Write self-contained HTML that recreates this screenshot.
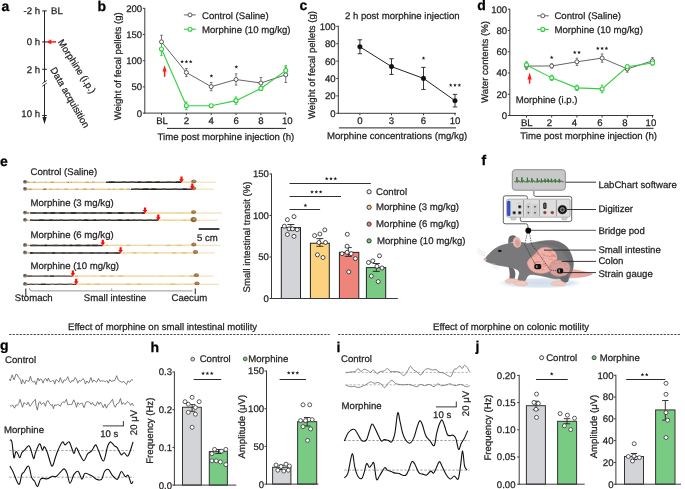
<!DOCTYPE html>
<html><head><meta charset="utf-8"><style>
html,body{margin:0;padding:0;background:#fff;}
body{width:685px;height:489px;overflow:hidden;}
svg{display:block;will-change:transform;text-rendering:geometricPrecision;font-family:"Liberation Sans",sans-serif;font-size:9.6px;fill:#231f20;}
</style></head><body>
<svg width="685" height="489" viewBox="0 0 685 489">
<text x="1.5" y="10.6" font-size="14" font-weight="bold" fill="#000" stroke="#000" stroke-width="0.25">a</text>
<line x1="44.5" y1="10.9" x2="44.5" y2="119" stroke="#222" stroke-width="1"/>
<path d="M44.5 124.2L42.4 117L46.6 117Z" fill="#222" stroke="none" stroke-width="1"/>
<line x1="42.2" y1="10.9" x2="46.8" y2="10.9" stroke="#222" stroke-width="1"/>
<text x="40" y="14.3" text-anchor="end" stroke="#231f20" stroke-width="0.25">-2 h</text>
<line x1="42.2" y1="41.9" x2="46.8" y2="41.9" stroke="#222" stroke-width="1"/>
<text x="40" y="45.3" text-anchor="end" stroke="#231f20" stroke-width="0.25">0 h</text>
<line x1="42.2" y1="69.3" x2="46.8" y2="69.3" stroke="#222" stroke-width="1"/>
<text x="40" y="72.7" text-anchor="end" stroke="#231f20" stroke-width="0.25">2 h</text>
<line x1="42.2" y1="115.5" x2="46.8" y2="115.5" stroke="#222" stroke-width="1"/>
<text x="40" y="117.2" text-anchor="end" stroke="#231f20" stroke-width="0.25">10 h</text>
<text x="51" y="14.2" stroke="#231f20" stroke-width="0.25">BL</text>
<line x1="56" y1="41.9" x2="50" y2="41.9" stroke="#ff1a1a" stroke-width="1.5"/>
<path d="M45.8 41.9L51.3 39.6L51.3 44.2Z" fill="#ff1a1a" stroke="none" stroke-width="1"/>
<line x1="42.3" y1="83.5" x2="46.7" y2="80.5" stroke="#222" stroke-width="0.9"/>
<line x1="42.3" y1="86.2" x2="46.7" y2="83.2" stroke="#222" stroke-width="0.9"/>
<rect x="43.9" y="82.5" width="1.3" height="1.8" fill="#fff" stroke="none" stroke-width="1"/>
<text x="57.4" y="42" stroke="#231f20" stroke-width="0.25" transform="rotate(57.5 57.4 42)">Morphine (i.p.)</text>
<text x="50" y="69.6" stroke="#231f20" stroke-width="0.25" transform="rotate(60 50 69.6)">Data acquisition</text>
<text x="97.5" y="10.5" font-size="14" font-weight="bold" fill="#000" stroke="#000" stroke-width="0.25">b</text>
<line x1="144.8" y1="8" x2="144.8" y2="113.6" stroke="#3a3a3a" stroke-width="1"/>
<line x1="144.3" y1="113.1" x2="286" y2="113.1" stroke="#3a3a3a" stroke-width="1"/>
<line x1="142.8" y1="113.1" x2="144.8" y2="113.1" stroke="#3a3a3a" stroke-width="1"/>
<text x="142.2" y="116.5" text-anchor="end" stroke="#231f20" stroke-width="0.25">0</text>
<line x1="142.8" y1="86.9" x2="144.8" y2="86.9" stroke="#3a3a3a" stroke-width="1"/>
<text x="142.2" y="90.3" text-anchor="end" stroke="#231f20" stroke-width="0.25">50</text>
<line x1="142.8" y1="60.7" x2="144.8" y2="60.7" stroke="#3a3a3a" stroke-width="1"/>
<text x="142.2" y="64.1" text-anchor="end" stroke="#231f20" stroke-width="0.25">100</text>
<line x1="142.8" y1="34.5" x2="144.8" y2="34.5" stroke="#3a3a3a" stroke-width="1"/>
<text x="142.2" y="37.9" text-anchor="end" stroke="#231f20" stroke-width="0.25">150</text>
<line x1="142.8" y1="8.3" x2="144.8" y2="8.3" stroke="#3a3a3a" stroke-width="1"/>
<text x="142.2" y="11.7" text-anchor="end" stroke="#231f20" stroke-width="0.25">200</text>
<line x1="161.5" y1="113.1" x2="161.5" y2="115.1" stroke="#3a3a3a" stroke-width="1"/>
<text x="162" y="123.6" text-anchor="middle" stroke="#231f20" stroke-width="0.25">BL</text>
<line x1="186.35" y1="113.1" x2="186.35" y2="115.1" stroke="#3a3a3a" stroke-width="1"/>
<text x="186.35" y="123.6" text-anchor="middle" stroke="#231f20" stroke-width="0.25">2</text>
<line x1="211.2" y1="113.1" x2="211.2" y2="115.1" stroke="#3a3a3a" stroke-width="1"/>
<text x="211.2" y="123.6" text-anchor="middle" stroke="#231f20" stroke-width="0.25">4</text>
<line x1="236.05" y1="113.1" x2="236.05" y2="115.1" stroke="#3a3a3a" stroke-width="1"/>
<text x="236.05" y="123.6" text-anchor="middle" stroke="#231f20" stroke-width="0.25">6</text>
<line x1="260.9" y1="113.1" x2="260.9" y2="115.1" stroke="#3a3a3a" stroke-width="1"/>
<text x="260.9" y="123.6" text-anchor="middle" stroke="#231f20" stroke-width="0.25">8</text>
<line x1="285.75" y1="113.1" x2="285.75" y2="115.1" stroke="#3a3a3a" stroke-width="1"/>
<text x="287.35" y="123.6" text-anchor="middle" stroke="#231f20" stroke-width="0.25">10</text>
<line x1="167" y1="128.4" x2="286" y2="128.4" stroke="#222" stroke-width="1"/>
<text x="157.6" y="139.8" stroke="#231f20" stroke-width="0.25">Time post morphine injection (h)</text>
<text x="120.6" y="66.3" text-anchor="middle" stroke="#231f20" stroke-width="0.25" transform="rotate(-90 120.6 66.3)">Weight of fecal pellets (g)</text>
<line x1="161.5" y1="35.2336" x2="161.5" y2="48.4384" stroke="#555555" stroke-width="0.8"/>
<line x1="160.2" y1="35.2336" x2="162.8" y2="35.2336" stroke="#555555" stroke-width="0.8"/>
<line x1="160.2" y1="48.4384" x2="162.8" y2="48.4384" stroke="#555555" stroke-width="0.8"/>
<line x1="186.35" y1="68.56" x2="186.35" y2="76.42" stroke="#555555" stroke-width="0.8"/>
<line x1="185.05" y1="68.56" x2="187.65" y2="68.56" stroke="#555555" stroke-width="0.8"/>
<line x1="185.05" y1="76.42" x2="187.65" y2="76.42" stroke="#555555" stroke-width="0.8"/>
<line x1="211.2" y1="82.5508" x2="211.2" y2="90.7252" stroke="#555555" stroke-width="0.8"/>
<line x1="209.9" y1="82.5508" x2="212.5" y2="82.5508" stroke="#555555" stroke-width="0.8"/>
<line x1="209.9" y1="90.7252" x2="212.5" y2="90.7252" stroke="#555555" stroke-width="0.8"/>
<line x1="236.05" y1="73.9048" x2="236.05" y2="85.1184" stroke="#555555" stroke-width="0.8"/>
<line x1="234.75" y1="73.9048" x2="237.35" y2="73.9048" stroke="#555555" stroke-width="0.8"/>
<line x1="234.75" y1="85.1184" x2="237.35" y2="85.1184" stroke="#555555" stroke-width="0.8"/>
<line x1="260.9" y1="77.4156" x2="260.9" y2="88.6292" stroke="#555555" stroke-width="0.8"/>
<line x1="259.6" y1="77.4156" x2="262.2" y2="77.4156" stroke="#555555" stroke-width="0.8"/>
<line x1="259.6" y1="88.6292" x2="262.2" y2="88.6292" stroke="#555555" stroke-width="0.8"/>
<line x1="285.75" y1="67.0928" x2="285.75" y2="82.4984" stroke="#555555" stroke-width="0.8"/>
<line x1="284.45" y1="67.0928" x2="287.05" y2="67.0928" stroke="#555555" stroke-width="0.8"/>
<line x1="284.45" y1="82.4984" x2="287.05" y2="82.4984" stroke="#555555" stroke-width="0.8"/>
<line x1="161.5" y1="42.622" x2="161.5" y2="55.4076" stroke="#2fd03c" stroke-width="0.9"/>
<line x1="160.2" y1="42.622" x2="162.8" y2="42.622" stroke="#2fd03c" stroke-width="0.9"/>
<line x1="160.2" y1="55.4076" x2="162.8" y2="55.4076" stroke="#2fd03c" stroke-width="0.9"/>
<line x1="186.35" y1="101.991" x2="186.35" y2="109.642" stroke="#2fd03c" stroke-width="0.9"/>
<line x1="185.05" y1="101.991" x2="187.65" y2="101.991" stroke="#2fd03c" stroke-width="0.9"/>
<line x1="185.05" y1="109.642" x2="187.65" y2="109.642" stroke="#2fd03c" stroke-width="0.9"/>
<line x1="211.2" y1="104.506" x2="211.2" y2="107.126" stroke="#2fd03c" stroke-width="0.9"/>
<line x1="209.9" y1="104.506" x2="212.5" y2="104.506" stroke="#2fd03c" stroke-width="0.9"/>
<line x1="209.9" y1="107.126" x2="212.5" y2="107.126" stroke="#2fd03c" stroke-width="0.9"/>
<line x1="236.05" y1="96.9608" x2="236.05" y2="104.297" stroke="#2fd03c" stroke-width="0.9"/>
<line x1="234.75" y1="96.9608" x2="237.35" y2="96.9608" stroke="#2fd03c" stroke-width="0.9"/>
<line x1="234.75" y1="104.297" x2="237.35" y2="104.297" stroke="#2fd03c" stroke-width="0.9"/>
<line x1="260.9" y1="86.8476" x2="260.9" y2="89.9916" stroke="#2fd03c" stroke-width="0.9"/>
<line x1="259.6" y1="86.8476" x2="262.2" y2="86.8476" stroke="#2fd03c" stroke-width="0.9"/>
<line x1="259.6" y1="89.9916" x2="262.2" y2="89.9916" stroke="#2fd03c" stroke-width="0.9"/>
<line x1="285.75" y1="65.3636" x2="285.75" y2="75.8436" stroke="#2fd03c" stroke-width="0.9"/>
<line x1="284.45" y1="65.3636" x2="287.05" y2="65.3636" stroke="#2fd03c" stroke-width="0.9"/>
<line x1="284.45" y1="75.8436" x2="287.05" y2="75.8436" stroke="#2fd03c" stroke-width="0.9"/>
<polyline points="161.5,41.84 186.35,72.49 211.2,86.64 236.05,79.51 260.9,83.02 285.75,74.8" fill="none" stroke="#555555" stroke-width="0.9"/>
<polyline points="161.5,49.01 186.35,105.82 211.2,105.82 236.05,100.63 260.9,88.42 285.75,70.6" fill="none" stroke="#2fd03c" stroke-width="1.1"/>
<circle cx="161.5" cy="41.836" r="2" fill="#fff" stroke="#555555" stroke-width="1"/>
<circle cx="186.35" cy="72.49" r="2" fill="#fff" stroke="#555555" stroke-width="1"/>
<circle cx="211.2" cy="86.638" r="2" fill="#fff" stroke="#555555" stroke-width="1"/>
<circle cx="236.05" cy="79.5116" r="2" fill="#fff" stroke="#555555" stroke-width="1"/>
<circle cx="260.9" cy="83.0224" r="2" fill="#fff" stroke="#555555" stroke-width="1"/>
<circle cx="285.75" cy="74.7956" r="2" fill="#fff" stroke="#555555" stroke-width="1"/>
<circle cx="161.5" cy="49.0148" r="2" fill="#fff" stroke="#2fd03c" stroke-width="1.1"/>
<circle cx="186.35" cy="105.816" r="2" fill="#fff" stroke="#2fd03c" stroke-width="1.1"/>
<circle cx="211.2" cy="105.816" r="2" fill="#fff" stroke="#2fd03c" stroke-width="1.1"/>
<circle cx="236.05" cy="100.629" r="2" fill="#fff" stroke="#2fd03c" stroke-width="1.1"/>
<circle cx="260.9" cy="88.4196" r="2" fill="#fff" stroke="#2fd03c" stroke-width="1.1"/>
<circle cx="285.75" cy="70.6036" r="2" fill="#fff" stroke="#2fd03c" stroke-width="1.1"/>
<polygon points="182.10,59.65 182.58,60.94 183.95,61.00 182.88,61.85 183.25,63.18 182.10,62.42 180.95,63.18 181.32,61.85 180.25,61.00 181.62,60.94" fill="#1a1a1a"/>
<polygon points="186.40,59.65 186.88,60.94 188.25,61.00 187.18,61.85 187.55,63.18 186.40,62.42 185.25,63.18 185.62,61.85 184.55,61.00 185.92,60.94" fill="#1a1a1a"/>
<polygon points="190.70,59.65 191.18,60.94 192.55,61.00 191.48,61.85 191.85,63.18 190.70,62.42 189.55,63.18 189.92,61.85 188.85,61.00 190.22,60.94" fill="#1a1a1a"/>
<polygon points="211.40,74.05 211.88,75.34 213.25,75.40 212.18,76.25 212.55,77.58 211.40,76.82 210.25,77.58 210.62,76.25 209.55,75.40 210.92,75.34" fill="#1a1a1a"/>
<polygon points="236.30,64.95 236.78,66.24 238.15,66.30 237.08,67.15 237.45,68.48 236.30,67.72 235.15,68.48 235.52,67.15 234.45,66.30 235.82,66.24" fill="#1a1a1a"/>
<line x1="164.6" y1="76.8" x2="164.6" y2="71" stroke="#ff1a1a" stroke-width="1.5"/>
<path d="M164.6 65.3L162.5 71.5L166.7 71.5Z" fill="#ff1a1a" stroke="none" stroke-width="1"/>
<line x1="183.9" y1="14.9" x2="195.8" y2="14.9" stroke="#555555" stroke-width="0.9"/>
<circle cx="190" cy="14.9" r="2" fill="#fff" stroke="#555555" stroke-width="1"/>
<text x="202" y="18.8" stroke="#231f20" stroke-width="0.25">Control (Saline)</text>
<line x1="183.9" y1="29.2" x2="195.8" y2="29.2" stroke="#2fd03c" stroke-width="1.1"/>
<circle cx="190" cy="29.2" r="2" fill="#fff" stroke="#2fd03c" stroke-width="1.1"/>
<text x="202" y="33.2" stroke="#231f20" stroke-width="0.25">Morphine (10 mg/kg)</text>
<text x="299.5" y="10.1" font-size="14" font-weight="bold" fill="#000" stroke="#000" stroke-width="0.25">c</text>
<text x="344.9" y="18.7" stroke="#231f20" stroke-width="0.25">2 h post morphine injection</text>
<line x1="338.3" y1="25.8" x2="338.3" y2="113.8" stroke="#3a3a3a" stroke-width="1"/>
<line x1="337.8" y1="113.3" x2="456" y2="113.3" stroke="#3a3a3a" stroke-width="1"/>
<line x1="336.3" y1="113.3" x2="338.3" y2="113.3" stroke="#3a3a3a" stroke-width="1"/>
<text x="335.7" y="116.7" text-anchor="end" stroke="#231f20" stroke-width="0.25">0</text>
<line x1="336.3" y1="95.9" x2="338.3" y2="95.9" stroke="#3a3a3a" stroke-width="1"/>
<text x="335.7" y="99.3" text-anchor="end" stroke="#231f20" stroke-width="0.25">20</text>
<line x1="336.3" y1="78.5" x2="338.3" y2="78.5" stroke="#3a3a3a" stroke-width="1"/>
<text x="335.7" y="81.9" text-anchor="end" stroke="#231f20" stroke-width="0.25">40</text>
<line x1="336.3" y1="61.1" x2="338.3" y2="61.1" stroke="#3a3a3a" stroke-width="1"/>
<text x="335.7" y="64.5" text-anchor="end" stroke="#231f20" stroke-width="0.25">60</text>
<line x1="336.3" y1="43.7" x2="338.3" y2="43.7" stroke="#3a3a3a" stroke-width="1"/>
<text x="335.7" y="47.1" text-anchor="end" stroke="#231f20" stroke-width="0.25">80</text>
<line x1="336.3" y1="26.3" x2="338.3" y2="26.3" stroke="#3a3a3a" stroke-width="1"/>
<text x="335.7" y="29.7" text-anchor="end" stroke="#231f20" stroke-width="0.25">100</text>
<line x1="359.9" y1="113.3" x2="359.9" y2="115.3" stroke="#3a3a3a" stroke-width="1"/>
<text x="359.9" y="123.6" text-anchor="middle" stroke="#231f20" stroke-width="0.25">0</text>
<line x1="391.5" y1="113.3" x2="391.5" y2="115.3" stroke="#3a3a3a" stroke-width="1"/>
<text x="391.5" y="123.6" text-anchor="middle" stroke="#231f20" stroke-width="0.25">3</text>
<line x1="423.5" y1="113.3" x2="423.5" y2="115.3" stroke="#3a3a3a" stroke-width="1"/>
<text x="423.5" y="123.6" text-anchor="middle" stroke="#231f20" stroke-width="0.25">6</text>
<line x1="455" y1="113.3" x2="455" y2="115.3" stroke="#3a3a3a" stroke-width="1"/>
<text x="455" y="123.6" text-anchor="middle" stroke="#231f20" stroke-width="0.25">10</text>
<line x1="338.9" y1="127.9" x2="456" y2="127.9" stroke="#222" stroke-width="1"/>
<text x="327" y="139.4" stroke="#231f20" stroke-width="0.25">Morphine concentrations (mg/kg)</text>
<text x="315.3" y="65" text-anchor="middle" stroke="#231f20" stroke-width="0.25" transform="rotate(-90 315.3 65)">Weight of fecal pellets (g)</text>
<line x1="359.9" y1="39.785" x2="359.9" y2="53.705" stroke="#222" stroke-width="0.9"/>
<line x1="357.7" y1="39.785" x2="362.1" y2="39.785" stroke="#222" stroke-width="0.9"/>
<line x1="357.7" y1="53.705" x2="362.1" y2="53.705" stroke="#222" stroke-width="0.9"/>
<line x1="391.5" y1="58.751" x2="391.5" y2="74.411" stroke="#222" stroke-width="0.9"/>
<line x1="389.3" y1="58.751" x2="393.7" y2="58.751" stroke="#222" stroke-width="0.9"/>
<line x1="389.3" y1="74.411" x2="393.7" y2="74.411" stroke="#222" stroke-width="0.9"/>
<line x1="423.5" y1="67.364" x2="423.5" y2="89.462" stroke="#222" stroke-width="0.9"/>
<line x1="421.3" y1="67.364" x2="425.7" y2="67.364" stroke="#222" stroke-width="0.9"/>
<line x1="421.3" y1="89.462" x2="425.7" y2="89.462" stroke="#222" stroke-width="0.9"/>
<line x1="455" y1="94.421" x2="455" y2="106.949" stroke="#222" stroke-width="0.9"/>
<line x1="452.8" y1="94.421" x2="457.2" y2="94.421" stroke="#222" stroke-width="0.9"/>
<line x1="452.8" y1="106.949" x2="457.2" y2="106.949" stroke="#222" stroke-width="0.9"/>
<polyline points="359.9,46.75 391.5,66.58 423.5,78.41 455,100.69" fill="none" stroke="#222" stroke-width="1"/>
<circle cx="359.9" cy="46.745" r="2.3" fill="#111" stroke="#111" stroke-width="0.5"/>
<circle cx="391.5" cy="66.581" r="2.3" fill="#111" stroke="#111" stroke-width="0.5"/>
<circle cx="423.5" cy="78.413" r="2.3" fill="#111" stroke="#111" stroke-width="0.5"/>
<circle cx="455" cy="100.685" r="2.3" fill="#111" stroke="#111" stroke-width="0.5"/>
<polygon points="423.50,56.15 423.98,57.44 425.35,57.50 424.28,58.35 424.65,59.68 423.50,58.92 422.35,59.68 422.72,58.35 421.65,57.50 423.02,57.44" fill="#1a1a1a"/>
<polygon points="450.70,83.15 451.18,84.44 452.55,84.50 451.48,85.35 451.85,86.68 450.70,85.92 449.55,86.68 449.92,85.35 448.85,84.50 450.22,84.44" fill="#1a1a1a"/>
<polygon points="455.00,83.15 455.48,84.44 456.85,84.50 455.78,85.35 456.15,86.68 455.00,85.92 453.85,86.68 454.22,85.35 453.15,84.50 454.52,84.44" fill="#1a1a1a"/>
<polygon points="459.30,83.15 459.78,84.44 461.15,84.50 460.08,85.35 460.45,86.68 459.30,85.92 458.15,86.68 458.52,85.35 457.45,84.50 458.82,84.44" fill="#1a1a1a"/>
<text x="477.3" y="10.2" font-size="14" font-weight="bold" fill="#000" stroke="#000" stroke-width="0.25">d</text>
<line x1="509.8" y1="8.7" x2="509.8" y2="116" stroke="#3a3a3a" stroke-width="1"/>
<line x1="509.3" y1="115.5" x2="653.5" y2="115.5" stroke="#3a3a3a" stroke-width="1"/>
<line x1="507.8" y1="115.5" x2="509.8" y2="115.5" stroke="#3a3a3a" stroke-width="1"/>
<text x="507.2" y="118.9" text-anchor="end" stroke="#231f20" stroke-width="0.25">0</text>
<line x1="507.8" y1="94.24" x2="509.8" y2="94.24" stroke="#3a3a3a" stroke-width="1"/>
<text x="507.2" y="97.64" text-anchor="end" stroke="#231f20" stroke-width="0.25">20</text>
<line x1="507.8" y1="72.98" x2="509.8" y2="72.98" stroke="#3a3a3a" stroke-width="1"/>
<text x="507.2" y="76.38" text-anchor="end" stroke="#231f20" stroke-width="0.25">40</text>
<line x1="507.8" y1="51.72" x2="509.8" y2="51.72" stroke="#3a3a3a" stroke-width="1"/>
<text x="507.2" y="55.12" text-anchor="end" stroke="#231f20" stroke-width="0.25">60</text>
<line x1="507.8" y1="30.46" x2="509.8" y2="30.46" stroke="#3a3a3a" stroke-width="1"/>
<text x="507.2" y="33.86" text-anchor="end" stroke="#231f20" stroke-width="0.25">80</text>
<line x1="507.8" y1="9.2" x2="509.8" y2="9.2" stroke="#3a3a3a" stroke-width="1"/>
<text x="507.2" y="12.6" text-anchor="end" stroke="#231f20" stroke-width="0.25">100</text>
<line x1="526.5" y1="115.5" x2="526.5" y2="117.5" stroke="#3a3a3a" stroke-width="1"/>
<text x="526.8" y="125.8" text-anchor="middle" stroke="#231f20" stroke-width="0.25">BL</text>
<line x1="551.7" y1="115.5" x2="551.7" y2="117.5" stroke="#3a3a3a" stroke-width="1"/>
<text x="549.4" y="125.8" text-anchor="middle" stroke="#231f20" stroke-width="0.25">2</text>
<line x1="576.9" y1="115.5" x2="576.9" y2="117.5" stroke="#3a3a3a" stroke-width="1"/>
<text x="574.3" y="125.8" text-anchor="middle" stroke="#231f20" stroke-width="0.25">4</text>
<line x1="602.1" y1="115.5" x2="602.1" y2="117.5" stroke="#3a3a3a" stroke-width="1"/>
<text x="599.8" y="125.8" text-anchor="middle" stroke="#231f20" stroke-width="0.25">6</text>
<line x1="627.3" y1="115.5" x2="627.3" y2="117.5" stroke="#3a3a3a" stroke-width="1"/>
<text x="624.8" y="125.8" text-anchor="middle" stroke="#231f20" stroke-width="0.25">8</text>
<line x1="652.5" y1="115.5" x2="652.5" y2="117.5" stroke="#3a3a3a" stroke-width="1"/>
<text x="650.9" y="125.8" text-anchor="middle" stroke="#231f20" stroke-width="0.25">10</text>
<line x1="520.3" y1="128.3" x2="653.5" y2="128.3" stroke="#222" stroke-width="1"/>
<text x="520.3" y="138.9" stroke="#231f20" stroke-width="0.25">Time post morphine injection (h)</text>
<text x="487.5" y="62" text-anchor="middle" stroke="#231f20" stroke-width="0.25" transform="rotate(-90 487.5 62)">Water contents (%)</text>
<line x1="526.5" y1="62.8815" x2="526.5" y2="69.2595" stroke="#555555" stroke-width="0.8"/>
<line x1="525.2" y1="62.8815" x2="527.8" y2="62.8815" stroke="#555555" stroke-width="0.8"/>
<line x1="525.2" y1="69.2595" x2="527.8" y2="69.2595" stroke="#555555" stroke-width="0.8"/>
<line x1="551.7" y1="63.8382" x2="551.7" y2="68.0902" stroke="#555555" stroke-width="0.8"/>
<line x1="550.4" y1="63.8382" x2="553" y2="63.8382" stroke="#555555" stroke-width="0.8"/>
<line x1="550.4" y1="68.0902" x2="553" y2="68.0902" stroke="#555555" stroke-width="0.8"/>
<line x1="576.9" y1="58.2043" x2="576.9" y2="65.4327" stroke="#555555" stroke-width="0.8"/>
<line x1="575.6" y1="58.2043" x2="578.2" y2="58.2043" stroke="#555555" stroke-width="0.8"/>
<line x1="575.6" y1="65.4327" x2="578.2" y2="65.4327" stroke="#555555" stroke-width="0.8"/>
<line x1="602.1" y1="53.9523" x2="602.1" y2="62.2437" stroke="#555555" stroke-width="0.8"/>
<line x1="600.8" y1="53.9523" x2="603.4" y2="53.9523" stroke="#555555" stroke-width="0.8"/>
<line x1="600.8" y1="62.2437" x2="603.4" y2="62.2437" stroke="#555555" stroke-width="0.8"/>
<line x1="627.3" y1="65.7516" x2="627.3" y2="72.1296" stroke="#555555" stroke-width="0.8"/>
<line x1="626" y1="65.7516" x2="628.6" y2="65.7516" stroke="#555555" stroke-width="0.8"/>
<line x1="626" y1="72.1296" x2="628.6" y2="72.1296" stroke="#555555" stroke-width="0.8"/>
<line x1="652.5" y1="57.6728" x2="652.5" y2="64.0508" stroke="#555555" stroke-width="0.8"/>
<line x1="651.2" y1="57.6728" x2="653.8" y2="57.6728" stroke="#555555" stroke-width="0.8"/>
<line x1="651.2" y1="64.0508" x2="653.8" y2="64.0508" stroke="#555555" stroke-width="0.8"/>
<line x1="526.5" y1="61.7122" x2="526.5" y2="68.0902" stroke="#2fd03c" stroke-width="0.9"/>
<line x1="525.2" y1="61.7122" x2="527.8" y2="61.7122" stroke="#2fd03c" stroke-width="0.9"/>
<line x1="525.2" y1="68.0902" x2="527.8" y2="68.0902" stroke="#2fd03c" stroke-width="0.9"/>
<line x1="551.7" y1="75.2123" x2="551.7" y2="80.5273" stroke="#2fd03c" stroke-width="0.9"/>
<line x1="550.4" y1="75.2123" x2="553" y2="75.2123" stroke="#2fd03c" stroke-width="0.9"/>
<line x1="550.4" y1="80.5273" x2="553" y2="80.5273" stroke="#2fd03c" stroke-width="0.9"/>
<line x1="576.9" y1="85.2045" x2="576.9" y2="90.5195" stroke="#2fd03c" stroke-width="0.9"/>
<line x1="575.6" y1="85.2045" x2="578.2" y2="85.2045" stroke="#2fd03c" stroke-width="0.9"/>
<line x1="575.6" y1="90.5195" x2="578.2" y2="90.5195" stroke="#2fd03c" stroke-width="0.9"/>
<line x1="602.1" y1="85.2045" x2="602.1" y2="92.6455" stroke="#2fd03c" stroke-width="0.9"/>
<line x1="600.8" y1="85.2045" x2="603.4" y2="85.2045" stroke="#2fd03c" stroke-width="0.9"/>
<line x1="600.8" y1="92.6455" x2="603.4" y2="92.6455" stroke="#2fd03c" stroke-width="0.9"/>
<line x1="627.3" y1="64.6886" x2="627.3" y2="68.9406" stroke="#2fd03c" stroke-width="0.9"/>
<line x1="626" y1="64.6886" x2="628.6" y2="64.6886" stroke="#2fd03c" stroke-width="0.9"/>
<line x1="626" y1="68.9406" x2="628.6" y2="68.9406" stroke="#2fd03c" stroke-width="0.9"/>
<line x1="652.5" y1="60.8618" x2="652.5" y2="65.1138" stroke="#2fd03c" stroke-width="0.9"/>
<line x1="651.2" y1="60.8618" x2="653.8" y2="60.8618" stroke="#2fd03c" stroke-width="0.9"/>
<line x1="651.2" y1="65.1138" x2="653.8" y2="65.1138" stroke="#2fd03c" stroke-width="0.9"/>
<polyline points="526.5,66.07 551.7,65.96 576.9,61.82 602.1,58.1 627.3,68.94 652.5,60.86" fill="none" stroke="#555555" stroke-width="0.9"/>
<polyline points="526.5,64.9 551.7,77.87 576.9,87.86 602.1,88.92 627.3,66.81 652.5,62.99" fill="none" stroke="#2fd03c" stroke-width="1.1"/>
<circle cx="526.5" cy="66.0705" r="2" fill="#fff" stroke="#555555" stroke-width="1"/>
<circle cx="551.7" cy="65.9642" r="2" fill="#fff" stroke="#555555" stroke-width="1"/>
<circle cx="576.9" cy="61.8185" r="2" fill="#fff" stroke="#555555" stroke-width="1"/>
<circle cx="602.1" cy="58.098" r="2" fill="#fff" stroke="#555555" stroke-width="1"/>
<circle cx="627.3" cy="68.9406" r="2" fill="#fff" stroke="#555555" stroke-width="1"/>
<circle cx="652.5" cy="60.8618" r="2" fill="#fff" stroke="#555555" stroke-width="1"/>
<circle cx="526.5" cy="64.9012" r="2" fill="#fff" stroke="#2fd03c" stroke-width="1.1"/>
<circle cx="551.7" cy="77.8698" r="2" fill="#fff" stroke="#2fd03c" stroke-width="1.1"/>
<circle cx="576.9" cy="87.862" r="2" fill="#fff" stroke="#2fd03c" stroke-width="1.1"/>
<circle cx="602.1" cy="88.925" r="2" fill="#fff" stroke="#2fd03c" stroke-width="1.1"/>
<circle cx="627.3" cy="66.8146" r="2" fill="#fff" stroke="#2fd03c" stroke-width="1.1"/>
<circle cx="652.5" cy="62.9878" r="2" fill="#fff" stroke="#2fd03c" stroke-width="1.1"/>
<polygon points="551.70,55.55 552.18,56.84 553.55,56.90 552.48,57.75 552.85,59.08 551.70,58.32 550.55,59.08 550.92,57.75 549.85,56.90 551.22,56.84" fill="#1a1a1a"/>
<polygon points="574.75,50.45 575.23,51.74 576.60,51.80 575.53,52.65 575.90,53.98 574.75,53.22 573.60,53.98 573.97,52.65 572.90,51.80 574.27,51.74" fill="#1a1a1a"/>
<polygon points="579.05,50.45 579.53,51.74 580.90,51.80 579.83,52.65 580.20,53.98 579.05,53.22 577.90,53.98 578.27,52.65 577.20,51.80 578.57,51.74" fill="#1a1a1a"/>
<polygon points="597.80,46.45 598.28,47.74 599.65,47.80 598.58,48.65 598.95,49.98 597.80,49.22 596.65,49.98 597.02,48.65 595.95,47.80 597.32,47.74" fill="#1a1a1a"/>
<polygon points="602.10,46.45 602.58,47.74 603.95,47.80 602.88,48.65 603.25,49.98 602.10,49.22 600.95,49.98 601.32,48.65 600.25,47.80 601.62,47.74" fill="#1a1a1a"/>
<polygon points="606.40,46.45 606.88,47.74 608.25,47.80 607.18,48.65 607.55,49.98 606.40,49.22 605.25,49.98 605.62,48.65 604.55,47.80 605.92,47.74" fill="#1a1a1a"/>
<line x1="529.6" y1="83.6" x2="529.6" y2="79.1" stroke="#ff1a1a" stroke-width="1.5"/>
<path d="M529.6 72.6L527.5 79.6L531.7 79.6Z" fill="#ff1a1a" stroke="none" stroke-width="1"/>
<text x="515.7" y="102.9" stroke="#231f20" stroke-width="0.25">Morphine (i.p.)</text>
<line x1="537" y1="15.8" x2="548.8" y2="15.8" stroke="#555555" stroke-width="0.9"/>
<circle cx="542.8" cy="15.8" r="2" fill="#fff" stroke="#555555" stroke-width="1"/>
<text x="554.4" y="19.3" stroke="#231f20" stroke-width="0.25">Control (Saline)</text>
<line x1="537" y1="29.4" x2="548.8" y2="29.4" stroke="#2fd03c" stroke-width="1.1"/>
<circle cx="542.8" cy="29.4" r="2" fill="#fff" stroke="#2fd03c" stroke-width="1.1"/>
<text x="554.4" y="32.9" stroke="#231f20" stroke-width="0.25">Morphine (10 mg/kg)</text>
<text x="0" y="165.6" font-size="14" font-weight="bold" fill="#000" stroke="#000" stroke-width="0.25">e</text>
<text x="30.5" y="174.5" stroke="#231f20" stroke-width="0.25">Control (Saline)</text>
<line x1="25.5" y1="182.2" x2="106" y2="182.2" stroke="#dfbd70" stroke-width="1.15"/>
<line x1="25.9031" y1="182.2" x2="29.4454" y2="182.2" stroke="#c9a04e" stroke-width="1.15"/>
<line x1="32.9758" y1="182.2" x2="35.4621" y2="182.2" stroke="#b3a896" stroke-width="1.15"/>
<line x1="40.2956" y1="182.2" x2="42.4344" y2="182.2" stroke="#ecd49a" stroke-width="1.15"/>
<line x1="44.9976" y1="182.2" x2="46.0826" y2="182.2" stroke="#b3a896" stroke-width="1.15"/>
<line x1="50.6792" y1="182.2" x2="53.9661" y2="182.2" stroke="#c9a04e" stroke-width="1.15"/>
<line x1="60.1411" y1="182.2" x2="61.9401" y2="182.2" stroke="#ecd49a" stroke-width="1.15"/>
<line x1="67.487" y1="182.2" x2="68.7937" y2="182.2" stroke="#6b5e4e" stroke-width="1.15"/>
<line x1="70.9772" y1="182.2" x2="72.0535" y2="182.2" stroke="#d4ab58" stroke-width="1.15"/>
<line x1="74.1088" y1="182.2" x2="77.7525" y2="182.2" stroke="#ecd49a" stroke-width="1.15"/>
<line x1="85.5667" y1="182.2" x2="88.7443" y2="182.2" stroke="#d4ab58" stroke-width="1.15"/>
<line x1="92.0744" y1="182.2" x2="94.3881" y2="182.2" stroke="#b3a896" stroke-width="1.15"/>
<line x1="99.7052" y1="182.2" x2="101.742" y2="182.2" stroke="#ecd49a" stroke-width="1.15"/>
<line x1="106" y1="182.2" x2="181.5" y2="182.2" stroke="#37342f" stroke-width="1.45"/>
<line x1="108.857" y1="182.2" x2="114.563" y2="182.2" stroke="#222" stroke-width="1.45"/>
<line x1="121.588" y1="182.2" x2="125.814" y2="182.2" stroke="#4a4540" stroke-width="1.45"/>
<line x1="128.929" y1="182.2" x2="134.9" y2="182.2" stroke="#55504a" stroke-width="1.45"/>
<line x1="137.625" y1="182.2" x2="140.956" y2="182.2" stroke="#222" stroke-width="1.45"/>
<line x1="146.002" y1="182.2" x2="151.643" y2="182.2" stroke="#2e2b28" stroke-width="1.45"/>
<line x1="155.463" y1="182.2" x2="159.813" y2="182.2" stroke="#222" stroke-width="1.45"/>
<line x1="166.891" y1="182.2" x2="170.912" y2="182.2" stroke="#4a4540" stroke-width="1.45"/>
<line x1="175.793" y1="182.2" x2="180.768" y2="182.2" stroke="#222" stroke-width="1.45"/>
<line x1="181.5" y1="182.2" x2="192.8" y2="182.2" stroke="#ecd694" stroke-width="1.4"/>
<line x1="182.019" y1="182.2" x2="186.214" y2="182.2" stroke="#efdaa0" stroke-width="1.4"/>
<line x1="193.8" y1="182.2" x2="216" y2="182.2" stroke="#efdfb2" stroke-width="1.1"/>
<ellipse cx="25.1" cy="181.8" rx="2.1" ry="1.9" fill="#8c8172"/>
<ellipse cx="24.6" cy="181.4" rx="1.0" ry="0.9" fill="#4a4a58"/>
<ellipse cx="193.8" cy="181.3" rx="2.6" ry="1.9" fill="#9a7442"/>
<ellipse cx="194.3" cy="180.9" rx="1.2" ry="0.8" fill="#b8955e"/>
<path d="M180.4 176.6L182.6 176.6L182.6 179.3L183.9 179.3L181.5 182.4L179.1 179.3L180.4 179.3Z" fill="#ff0a0a" stroke="none" stroke-width="1"/>
<line x1="25.5" y1="189.2" x2="131" y2="189.2" stroke="#dfbd70" stroke-width="1.15"/>
<line x1="28.3681" y1="189.2" x2="32.2116" y2="189.2" stroke="#c9a04e" stroke-width="1.15"/>
<line x1="34.7611" y1="189.2" x2="36.8443" y2="189.2" stroke="#ecd49a" stroke-width="1.15"/>
<line x1="43.2601" y1="189.2" x2="46.2693" y2="189.2" stroke="#6b5e4e" stroke-width="1.15"/>
<line x1="49.7788" y1="189.2" x2="51.4154" y2="189.2" stroke="#c9a04e" stroke-width="1.15"/>
<line x1="56.9027" y1="189.2" x2="58.3778" y2="189.2" stroke="#b3a896" stroke-width="1.15"/>
<line x1="64.2086" y1="189.2" x2="67.6196" y2="189.2" stroke="#d4ab58" stroke-width="1.15"/>
<line x1="75.316" y1="189.2" x2="77.9485" y2="189.2" stroke="#b3a896" stroke-width="1.15"/>
<line x1="82.961" y1="189.2" x2="86.6646" y2="189.2" stroke="#c9a04e" stroke-width="1.15"/>
<line x1="90.8487" y1="189.2" x2="94.6442" y2="189.2" stroke="#b3a896" stroke-width="1.15"/>
<line x1="99.1859" y1="189.2" x2="102.838" y2="189.2" stroke="#ecd49a" stroke-width="1.15"/>
<line x1="108.201" y1="189.2" x2="109.909" y2="189.2" stroke="#c9a04e" stroke-width="1.15"/>
<line x1="112.97" y1="189.2" x2="114.491" y2="189.2" stroke="#d4ab58" stroke-width="1.15"/>
<line x1="119.552" y1="189.2" x2="123.548" y2="189.2" stroke="#d4ab58" stroke-width="1.15"/>
<line x1="126.639" y1="189.2" x2="130.32" y2="189.2" stroke="#b3a896" stroke-width="1.15"/>
<line x1="131" y1="189.2" x2="192.3" y2="189.2" stroke="#37342f" stroke-width="1.45"/>
<line x1="133.72" y1="189.2" x2="138.771" y2="189.2" stroke="#55504a" stroke-width="1.45"/>
<line x1="142.943" y1="189.2" x2="148.379" y2="189.2" stroke="#222" stroke-width="1.45"/>
<line x1="151.346" y1="189.2" x2="156.362" y2="189.2" stroke="#222" stroke-width="1.45"/>
<line x1="162.291" y1="189.2" x2="165.291" y2="189.2" stroke="#55504a" stroke-width="1.45"/>
<line x1="172.84" y1="189.2" x2="176.843" y2="189.2" stroke="#55504a" stroke-width="1.45"/>
<line x1="182.813" y1="189.2" x2="186.632" y2="189.2" stroke="#222" stroke-width="1.45"/>
<line x1="190.737" y1="189.2" x2="192.3" y2="189.2" stroke="#222" stroke-width="1.45"/>
<line x1="192.3" y1="189.2" x2="192.5" y2="189.2" stroke="#ecd694" stroke-width="1.4"/>
<line x1="193.5" y1="189.2" x2="213.5" y2="189.2" stroke="#efdfb2" stroke-width="1.1"/>
<ellipse cx="25.1" cy="188.8" rx="2.1" ry="1.9" fill="#8c8172"/>
<ellipse cx="24.6" cy="188.4" rx="1.0" ry="0.9" fill="#4a4a58"/>
<ellipse cx="193.5" cy="188.3" rx="2.6" ry="1.9" fill="#9a7442"/>
<ellipse cx="194" cy="187.9" rx="1.2" ry="0.8" fill="#b8955e"/>
<path d="M191.2 183.6L193.4 183.6L193.4 186.3L194.7 186.3L192.3 189.4L189.9 186.3L191.2 186.3Z" fill="#ff0a0a" stroke="none" stroke-width="1"/>
<text x="30.5" y="206.4" stroke="#231f20" stroke-width="0.25">Morphine (3 mg/kg)</text>
<line x1="25.5" y1="213" x2="30" y2="213" stroke="#dfbd70" stroke-width="1.15"/>
<line x1="26.2139" y1="213" x2="28.8466" y2="213" stroke="#6b5e4e" stroke-width="1.15"/>
<line x1="30" y1="213" x2="145" y2="213" stroke="#37342f" stroke-width="1.45"/>
<line x1="31.4222" y1="213" x2="35.7456" y2="213" stroke="#4a4540" stroke-width="1.45"/>
<line x1="43.1985" y1="213" x2="47.0754" y2="213" stroke="#2e2b28" stroke-width="1.45"/>
<line x1="50.2259" y1="213" x2="55.0945" y2="213" stroke="#222" stroke-width="1.45"/>
<line x1="59.4773" y1="213" x2="64.9214" y2="213" stroke="#2e2b28" stroke-width="1.45"/>
<line x1="70.7305" y1="213" x2="76.2027" y2="213" stroke="#222" stroke-width="1.45"/>
<line x1="82.6502" y1="213" x2="87.3359" y2="213" stroke="#4a4540" stroke-width="1.45"/>
<line x1="90.2923" y1="213" x2="96.1223" y2="213" stroke="#4a4540" stroke-width="1.45"/>
<line x1="99.9299" y1="213" x2="102.054" y2="213" stroke="#55504a" stroke-width="1.45"/>
<line x1="106.89" y1="213" x2="111.766" y2="213" stroke="#222" stroke-width="1.45"/>
<line x1="118.05" y1="213" x2="123.735" y2="213" stroke="#222" stroke-width="1.45"/>
<line x1="130.104" y1="213" x2="134.411" y2="213" stroke="#2e2b28" stroke-width="1.45"/>
<line x1="141.684" y1="213" x2="144.074" y2="213" stroke="#2e2b28" stroke-width="1.45"/>
<line x1="145" y1="213" x2="192.6" y2="213" stroke="#ecd694" stroke-width="1.4"/>
<line x1="145.774" y1="213" x2="150.462" y2="213" stroke="#efdaa0" stroke-width="1.4"/>
<line x1="157.738" y1="213" x2="161.423" y2="213" stroke="#f2e2b4" stroke-width="1.4"/>
<line x1="167.293" y1="213" x2="171.429" y2="213" stroke="#f2e2b4" stroke-width="1.4"/>
<line x1="177.351" y1="213" x2="182.967" y2="213" stroke="#efdaa0" stroke-width="1.4"/>
<line x1="190.546" y1="213" x2="192.6" y2="213" stroke="#f2e2b4" stroke-width="1.4"/>
<line x1="193.6" y1="213" x2="222" y2="213" stroke="#efdfb2" stroke-width="1.1"/>
<ellipse cx="25.1" cy="212.6" rx="2.1" ry="1.9" fill="#8c8172"/>
<ellipse cx="24.6" cy="212.2" rx="1.0" ry="0.9" fill="#4a4a58"/>
<ellipse cx="193.6" cy="212.1" rx="2.6" ry="1.9" fill="#9a7442"/>
<ellipse cx="194.1" cy="211.7" rx="1.2" ry="0.8" fill="#b8955e"/>
<path d="M143.9 207.4L146.1 207.4L146.1 210.1L147.4 210.1L145 213.2L142.6 210.1L143.9 210.1Z" fill="#ff0a0a" stroke="none" stroke-width="1"/>
<line x1="25.5" y1="220.2" x2="30" y2="220.2" stroke="#dfbd70" stroke-width="1.15"/>
<line x1="26.2081" y1="220.2" x2="27.5176" y2="220.2" stroke="#b3a896" stroke-width="1.15"/>
<line x1="30" y1="220.2" x2="158.3" y2="220.2" stroke="#37342f" stroke-width="1.45"/>
<line x1="30.2703" y1="220.2" x2="32.3496" y2="220.2" stroke="#55504a" stroke-width="1.45"/>
<line x1="39.1523" y1="220.2" x2="44.2129" y2="220.2" stroke="#2e2b28" stroke-width="1.45"/>
<line x1="49.335" y1="220.2" x2="52.7759" y2="220.2" stroke="#2e2b28" stroke-width="1.45"/>
<line x1="59.7372" y1="220.2" x2="62.7841" y2="220.2" stroke="#4a4540" stroke-width="1.45"/>
<line x1="69.7576" y1="220.2" x2="74.9842" y2="220.2" stroke="#55504a" stroke-width="1.45"/>
<line x1="78.1448" y1="220.2" x2="81.3842" y2="220.2" stroke="#55504a" stroke-width="1.45"/>
<line x1="83.9045" y1="220.2" x2="88.3279" y2="220.2" stroke="#222" stroke-width="1.45"/>
<line x1="93.3636" y1="220.2" x2="96.0748" y2="220.2" stroke="#222" stroke-width="1.45"/>
<line x1="99.7548" y1="220.2" x2="105.533" y2="220.2" stroke="#55504a" stroke-width="1.45"/>
<line x1="107.576" y1="220.2" x2="110.744" y2="220.2" stroke="#55504a" stroke-width="1.45"/>
<line x1="117.832" y1="220.2" x2="121.866" y2="220.2" stroke="#222" stroke-width="1.45"/>
<line x1="126.408" y1="220.2" x2="129.561" y2="220.2" stroke="#222" stroke-width="1.45"/>
<line x1="132.529" y1="220.2" x2="135.749" y2="220.2" stroke="#4a4540" stroke-width="1.45"/>
<line x1="138.236" y1="220.2" x2="142.087" y2="220.2" stroke="#55504a" stroke-width="1.45"/>
<line x1="147.2" y1="220.2" x2="151.792" y2="220.2" stroke="#55504a" stroke-width="1.45"/>
<line x1="154.662" y1="220.2" x2="158.3" y2="220.2" stroke="#4a4540" stroke-width="1.45"/>
<line x1="158.3" y1="220.2" x2="192.6" y2="220.2" stroke="#ecd694" stroke-width="1.4"/>
<line x1="158.908" y1="220.2" x2="163.439" y2="220.2" stroke="#f2e2b4" stroke-width="1.4"/>
<line x1="167.357" y1="220.2" x2="171.101" y2="220.2" stroke="#efdaa0" stroke-width="1.4"/>
<line x1="175.704" y1="220.2" x2="179.938" y2="220.2" stroke="#f2e2b4" stroke-width="1.4"/>
<line x1="183.443" y1="220.2" x2="185.69" y2="220.2" stroke="#e2c57c" stroke-width="1.4"/>
<line x1="190.077" y1="220.2" x2="192.6" y2="220.2" stroke="#e2c57c" stroke-width="1.4"/>
<line x1="193.6" y1="220.2" x2="217.6" y2="220.2" stroke="#efdfb2" stroke-width="1.1"/>
<ellipse cx="25.1" cy="219.8" rx="2.1" ry="1.9" fill="#8c8172"/>
<ellipse cx="24.6" cy="219.4" rx="1.0" ry="0.9" fill="#4a4a58"/>
<ellipse cx="193.6" cy="219.6" rx="3" ry="2.6" fill="#8f6a3a"/>
<ellipse cx="194.2" cy="219.2" rx="1.4" ry="1.1" fill="#c09a60"/>
<path d="M157.2 214.6L159.4 214.6L159.4 217.3L160.7 217.3L158.3 220.4L155.9 217.3L157.2 217.3Z" fill="#ff0a0a" stroke="none" stroke-width="1"/>
<text x="30.5" y="237.5" stroke="#231f20" stroke-width="0.25">Morphine (6 mg/kg)</text>
<line x1="25.5" y1="245.4" x2="30" y2="245.4" stroke="#dfbd70" stroke-width="1.15"/>
<line x1="27.3687" y1="245.4" x2="30" y2="245.4" stroke="#d4ab58" stroke-width="1.15"/>
<line x1="30" y1="245.4" x2="102.8" y2="245.4" stroke="#37342f" stroke-width="1.45"/>
<line x1="31.3969" y1="245.4" x2="37.1703" y2="245.4" stroke="#4a4540" stroke-width="1.45"/>
<line x1="44.5757" y1="245.4" x2="47.0285" y2="245.4" stroke="#222" stroke-width="1.45"/>
<line x1="54.2392" y1="245.4" x2="57.7622" y2="245.4" stroke="#4a4540" stroke-width="1.45"/>
<line x1="63.2059" y1="245.4" x2="65.2583" y2="245.4" stroke="#2e2b28" stroke-width="1.45"/>
<line x1="69.7072" y1="245.4" x2="72.4355" y2="245.4" stroke="#222" stroke-width="1.45"/>
<line x1="75.3932" y1="245.4" x2="80.5818" y2="245.4" stroke="#2e2b28" stroke-width="1.45"/>
<line x1="86.2893" y1="245.4" x2="90.0687" y2="245.4" stroke="#2e2b28" stroke-width="1.45"/>
<line x1="92.0793" y1="245.4" x2="97.5649" y2="245.4" stroke="#2e2b28" stroke-width="1.45"/>
<line x1="102.8" y1="245.4" x2="192.8" y2="245.4" stroke="#ecd694" stroke-width="1.4"/>
<line x1="105.68" y1="245.4" x2="108.344" y2="245.4" stroke="#e2c57c" stroke-width="1.4"/>
<line x1="112.79" y1="245.4" x2="118.636" y2="245.4" stroke="#efdaa0" stroke-width="1.4"/>
<line x1="126.017" y1="245.4" x2="130.52" y2="245.4" stroke="#e2c57c" stroke-width="1.4"/>
<line x1="138.225" y1="245.4" x2="142.987" y2="245.4" stroke="#f2e2b4" stroke-width="1.4"/>
<line x1="147.481" y1="245.4" x2="150.926" y2="245.4" stroke="#e2c57c" stroke-width="1.4"/>
<line x1="158.605" y1="245.4" x2="161.66" y2="245.4" stroke="#f2e2b4" stroke-width="1.4"/>
<line x1="166.167" y1="245.4" x2="170.579" y2="245.4" stroke="#e2c57c" stroke-width="1.4"/>
<line x1="176.559" y1="245.4" x2="181.39" y2="245.4" stroke="#e2c57c" stroke-width="1.4"/>
<line x1="185.94" y1="245.4" x2="191.214" y2="245.4" stroke="#f2e2b4" stroke-width="1.4"/>
<line x1="193.8" y1="245.4" x2="220" y2="245.4" stroke="#efdfb2" stroke-width="1.1"/>
<ellipse cx="25.1" cy="245" rx="2.1" ry="1.9" fill="#8c8172"/>
<ellipse cx="24.6" cy="244.6" rx="1.0" ry="0.9" fill="#4a4a58"/>
<ellipse cx="193.8" cy="244.5" rx="2.6" ry="1.9" fill="#9a7442"/>
<ellipse cx="194.3" cy="244.1" rx="1.2" ry="0.8" fill="#b8955e"/>
<path d="M101.7 239.8L103.9 239.8L103.9 242.5L105.2 242.5L102.8 245.6L100.4 242.5L101.7 242.5Z" fill="#ff0a0a" stroke="none" stroke-width="1"/>
<line x1="25.5" y1="252.9" x2="30" y2="252.9" stroke="#dfbd70" stroke-width="1.15"/>
<line x1="27.88" y1="252.9" x2="30" y2="252.9" stroke="#b3a896" stroke-width="1.15"/>
<line x1="30" y1="252.9" x2="120.6" y2="252.9" stroke="#37342f" stroke-width="1.45"/>
<line x1="30.1105" y1="252.9" x2="32.6928" y2="252.9" stroke="#222" stroke-width="1.45"/>
<line x1="40.4859" y1="252.9" x2="45.4252" y2="252.9" stroke="#55504a" stroke-width="1.45"/>
<line x1="52.0461" y1="252.9" x2="55.1369" y2="252.9" stroke="#2e2b28" stroke-width="1.45"/>
<line x1="61.5158" y1="252.9" x2="65.1718" y2="252.9" stroke="#4a4540" stroke-width="1.45"/>
<line x1="68.3297" y1="252.9" x2="72.5442" y2="252.9" stroke="#55504a" stroke-width="1.45"/>
<line x1="78.5216" y1="252.9" x2="82.9618" y2="252.9" stroke="#4a4540" stroke-width="1.45"/>
<line x1="90.0275" y1="252.9" x2="93.3698" y2="252.9" stroke="#4a4540" stroke-width="1.45"/>
<line x1="97.5427" y1="252.9" x2="101.182" y2="252.9" stroke="#55504a" stroke-width="1.45"/>
<line x1="105.854" y1="252.9" x2="108.229" y2="252.9" stroke="#2e2b28" stroke-width="1.45"/>
<line x1="114.433" y1="252.9" x2="119.619" y2="252.9" stroke="#4a4540" stroke-width="1.45"/>
<line x1="120.6" y1="252.9" x2="194.5" y2="252.9" stroke="#ecd694" stroke-width="1.4"/>
<line x1="122.366" y1="252.9" x2="125.169" y2="252.9" stroke="#efdaa0" stroke-width="1.4"/>
<line x1="132.733" y1="252.9" x2="136.679" y2="252.9" stroke="#e2c57c" stroke-width="1.4"/>
<line x1="142.253" y1="252.9" x2="146.831" y2="252.9" stroke="#efdaa0" stroke-width="1.4"/>
<line x1="154.293" y1="252.9" x2="158.308" y2="252.9" stroke="#e2c57c" stroke-width="1.4"/>
<line x1="164.475" y1="252.9" x2="167.455" y2="252.9" stroke="#f2e2b4" stroke-width="1.4"/>
<line x1="171.976" y1="252.9" x2="176.333" y2="252.9" stroke="#e2c57c" stroke-width="1.4"/>
<line x1="181.834" y1="252.9" x2="186.548" y2="252.9" stroke="#e2c57c" stroke-width="1.4"/>
<line x1="190.132" y1="252.9" x2="194.5" y2="252.9" stroke="#f2e2b4" stroke-width="1.4"/>
<line x1="195.5" y1="252.9" x2="215" y2="252.9" stroke="#efdfb2" stroke-width="1.1"/>
<ellipse cx="25.1" cy="252.5" rx="2.1" ry="1.9" fill="#8c8172"/>
<ellipse cx="24.6" cy="252.1" rx="1.0" ry="0.9" fill="#4a4a58"/>
<ellipse cx="195.5" cy="252" rx="2.6" ry="1.9" fill="#9a7442"/>
<ellipse cx="196" cy="251.6" rx="1.2" ry="0.8" fill="#b8955e"/>
<path d="M119.5 247.3L121.7 247.3L121.7 250L123 250L120.6 253.1L118.2 250L119.5 250Z" fill="#ff0a0a" stroke="none" stroke-width="1"/>
<text x="30.5" y="268.7" stroke="#231f20" stroke-width="0.25">Morphine (10 mg/kg)</text>
<line x1="25.5" y1="276.1" x2="27" y2="276.1" stroke="#dfbd70" stroke-width="1.15"/>
<line x1="27" y1="276.1" x2="72.9" y2="276.1" stroke="#4f483f" stroke-width="1.3"/>
<line x1="27.4525" y1="276.1" x2="32.0563" y2="276.1" stroke="#6b6255" stroke-width="1.3"/>
<line x1="38.9839" y1="276.1" x2="41.3605" y2="276.1" stroke="#8a8070" stroke-width="1.3"/>
<line x1="43.7084" y1="276.1" x2="47.7382" y2="276.1" stroke="#6b6255" stroke-width="1.3"/>
<line x1="50.2539" y1="276.1" x2="53.9266" y2="276.1" stroke="#3a3530" stroke-width="1.3"/>
<line x1="56.4708" y1="276.1" x2="60.1689" y2="276.1" stroke="#8a8070" stroke-width="1.3"/>
<line x1="62.9117" y1="276.1" x2="65.8047" y2="276.1" stroke="#8a8070" stroke-width="1.3"/>
<line x1="72.9" y1="276.1" x2="195.4" y2="276.1" stroke="#ecd694" stroke-width="1.4"/>
<line x1="74.6313" y1="276.1" x2="78.218" y2="276.1" stroke="#e2c57c" stroke-width="1.4"/>
<line x1="81.4509" y1="276.1" x2="86.8848" y2="276.1" stroke="#f2e2b4" stroke-width="1.4"/>
<line x1="91.9805" y1="276.1" x2="96.1433" y2="276.1" stroke="#efdaa0" stroke-width="1.4"/>
<line x1="100.686" y1="276.1" x2="105.95" y2="276.1" stroke="#e2c57c" stroke-width="1.4"/>
<line x1="109.465" y1="276.1" x2="113.75" y2="276.1" stroke="#e2c57c" stroke-width="1.4"/>
<line x1="118.612" y1="276.1" x2="122.803" y2="276.1" stroke="#e2c57c" stroke-width="1.4"/>
<line x1="128.625" y1="276.1" x2="133.101" y2="276.1" stroke="#f2e2b4" stroke-width="1.4"/>
<line x1="139.503" y1="276.1" x2="143.213" y2="276.1" stroke="#f2e2b4" stroke-width="1.4"/>
<line x1="148.541" y1="276.1" x2="154.235" y2="276.1" stroke="#f2e2b4" stroke-width="1.4"/>
<line x1="158.734" y1="276.1" x2="163.912" y2="276.1" stroke="#efdaa0" stroke-width="1.4"/>
<line x1="170.811" y1="276.1" x2="173.138" y2="276.1" stroke="#f2e2b4" stroke-width="1.4"/>
<line x1="178.764" y1="276.1" x2="184.265" y2="276.1" stroke="#efdaa0" stroke-width="1.4"/>
<line x1="189.509" y1="276.1" x2="193.945" y2="276.1" stroke="#e2c57c" stroke-width="1.4"/>
<line x1="196.4" y1="276.1" x2="212.9" y2="276.1" stroke="#efdfb2" stroke-width="1.1"/>
<ellipse cx="25.1" cy="275.7" rx="2.1" ry="1.9" fill="#8c8172"/>
<ellipse cx="24.6" cy="275.3" rx="1.0" ry="0.9" fill="#4a4a58"/>
<ellipse cx="196.4" cy="275.2" rx="2.6" ry="1.9" fill="#9a7442"/>
<ellipse cx="196.9" cy="274.8" rx="1.2" ry="0.8" fill="#b8955e"/>
<path d="M71.8 270.5L74 270.5L74 273.2L75.3 273.2L72.9 276.3L70.5 273.2L71.8 273.2Z" fill="#ff0a0a" stroke="none" stroke-width="1"/>
<line x1="25.5" y1="284.3" x2="27" y2="284.3" stroke="#dfbd70" stroke-width="1.15"/>
<line x1="27" y1="284.3" x2="76.2" y2="284.3" stroke="#4a4239" stroke-width="1.3"/>
<line x1="29.8869" y1="284.3" x2="32.3922" y2="284.3" stroke="#6b6255" stroke-width="1.3"/>
<line x1="34.9033" y1="284.3" x2="37.8931" y2="284.3" stroke="#8a8070" stroke-width="1.3"/>
<line x1="41.1495" y1="284.3" x2="45.7169" y2="284.3" stroke="#2e2a26" stroke-width="1.3"/>
<line x1="50.6414" y1="284.3" x2="54.2033" y2="284.3" stroke="#8a8070" stroke-width="1.3"/>
<line x1="57.3567" y1="284.3" x2="62.6787" y2="284.3" stroke="#6b6255" stroke-width="1.3"/>
<line x1="67.5893" y1="284.3" x2="72.6254" y2="284.3" stroke="#7a705f" stroke-width="1.3"/>
<line x1="76.2" y1="284.3" x2="196" y2="284.3" stroke="#ecd694" stroke-width="1.4"/>
<line x1="77.623" y1="284.3" x2="83.2676" y2="284.3" stroke="#efdaa0" stroke-width="1.4"/>
<line x1="86.8363" y1="284.3" x2="89.8697" y2="284.3" stroke="#e2c57c" stroke-width="1.4"/>
<line x1="94.8015" y1="284.3" x2="100.12" y2="284.3" stroke="#e2c57c" stroke-width="1.4"/>
<line x1="106.424" y1="284.3" x2="109.778" y2="284.3" stroke="#efdaa0" stroke-width="1.4"/>
<line x1="113.208" y1="284.3" x2="118.821" y2="284.3" stroke="#efdaa0" stroke-width="1.4"/>
<line x1="126.328" y1="284.3" x2="130.654" y2="284.3" stroke="#e2c57c" stroke-width="1.4"/>
<line x1="136.688" y1="284.3" x2="140.847" y2="284.3" stroke="#e2c57c" stroke-width="1.4"/>
<line x1="146.29" y1="284.3" x2="149.066" y2="284.3" stroke="#efdaa0" stroke-width="1.4"/>
<line x1="154.347" y1="284.3" x2="158.684" y2="284.3" stroke="#f2e2b4" stroke-width="1.4"/>
<line x1="163.113" y1="284.3" x2="166.54" y2="284.3" stroke="#f2e2b4" stroke-width="1.4"/>
<line x1="170.214" y1="284.3" x2="175.272" y2="284.3" stroke="#e2c57c" stroke-width="1.4"/>
<line x1="180.931" y1="284.3" x2="184.186" y2="284.3" stroke="#f2e2b4" stroke-width="1.4"/>
<line x1="191.936" y1="284.3" x2="196" y2="284.3" stroke="#efdaa0" stroke-width="1.4"/>
<line x1="197" y1="284.3" x2="219.4" y2="284.3" stroke="#efdfb2" stroke-width="1.1"/>
<ellipse cx="25.1" cy="283.9" rx="2.1" ry="1.9" fill="#8c8172"/>
<ellipse cx="24.6" cy="283.5" rx="1.0" ry="0.9" fill="#4a4a58"/>
<ellipse cx="197" cy="283.4" rx="2.6" ry="1.9" fill="#9a7442"/>
<ellipse cx="197.5" cy="283" rx="1.2" ry="0.8" fill="#b8955e"/>
<path d="M75.1 278.7L77.3 278.7L77.3 281.4L78.6 281.4L76.2 284.5L73.8 281.4L75.1 281.4Z" fill="#ff0a0a" stroke="none" stroke-width="1"/>
<line x1="198.7" y1="229" x2="219.4" y2="229" stroke="#111" stroke-width="1.6"/>
<text x="197" y="241.4" stroke="#231f20" stroke-width="0.25">5 cm</text>
<path d="M29.3 288.2 Q29.3 290.9 32 290.9 L192.5 290.9" fill="none" stroke="#8a8a8a" stroke-width="0.9"/>
<line x1="111.7" y1="288.4" x2="111.7" y2="290.9" stroke="#8a8a8a" stroke-width="0.8"/>
<line x1="25.8" y1="288.4" x2="25.8" y2="296.3" stroke="#333" stroke-width="1.1"/>
<line x1="195.3" y1="288.4" x2="195.3" y2="294.3" stroke="#333" stroke-width="1.1"/>
<text x="14.8" y="300.6" stroke="#231f20" stroke-width="0.25">Stomach</text>
<text x="83.8" y="300.6" stroke="#231f20" stroke-width="0.25">Small intestine</text>
<text x="171.5" y="300.6" stroke="#231f20" stroke-width="0.25">Caecum</text>
<line x1="271.5" y1="173.5" x2="271.5" y2="299" stroke="#3a3a3a" stroke-width="1"/>
<line x1="269.5" y1="298.5" x2="271.5" y2="298.5" stroke="#3a3a3a" stroke-width="1"/>
<text x="268.9" y="301.9" text-anchor="end" stroke="#231f20" stroke-width="0.25">0</text>
<line x1="269.5" y1="257" x2="271.5" y2="257" stroke="#3a3a3a" stroke-width="1"/>
<text x="268.9" y="260.4" text-anchor="end" stroke="#231f20" stroke-width="0.25">50</text>
<line x1="269.5" y1="215.5" x2="271.5" y2="215.5" stroke="#3a3a3a" stroke-width="1"/>
<text x="268.9" y="218.9" text-anchor="end" stroke="#231f20" stroke-width="0.25">100</text>
<line x1="269.5" y1="174" x2="271.5" y2="174" stroke="#3a3a3a" stroke-width="1"/>
<text x="268.9" y="177.4" text-anchor="end" stroke="#231f20" stroke-width="0.25">150</text>
<text x="249.8" y="237" text-anchor="middle" stroke="#231f20" stroke-width="0.25" transform="rotate(-90 249.8 237)">Small intestinal transit (%)</text>
<rect x="281.3" y="227.535" width="19.2" height="70.965" fill="#d3d4d8" stroke="#222" stroke-width="1"/>
<line x1="290.9" y1="224.5" x2="290.9" y2="230.4" stroke="#222" stroke-width="0.9"/>
<line x1="287.4" y1="224.5" x2="294.4" y2="224.5" stroke="#222" stroke-width="0.9"/>
<line x1="287.4" y1="230.4" x2="294.4" y2="230.4" stroke="#222" stroke-width="0.9"/>
<circle cx="287.4" cy="219.7" r="2" fill="#fff" stroke="#222" stroke-width="0.8"/>
<circle cx="294" cy="216.6" r="2" fill="#fff" stroke="#222" stroke-width="0.8"/>
<circle cx="284.3" cy="226.2" r="2" fill="#fff" stroke="#222" stroke-width="0.8"/>
<circle cx="289" cy="228.9" r="2" fill="#fff" stroke="#222" stroke-width="0.8"/>
<circle cx="292.5" cy="228.9" r="2" fill="#fff" stroke="#222" stroke-width="0.8"/>
<circle cx="297.2" cy="229.6" r="2" fill="#fff" stroke="#222" stroke-width="0.8"/>
<circle cx="287.4" cy="234.5" r="2" fill="#fff" stroke="#222" stroke-width="0.8"/>
<circle cx="294" cy="236.4" r="2" fill="#fff" stroke="#222" stroke-width="0.8"/>
<rect x="310.4" y="243.222" width="18.9" height="55.278" fill="#fdd27e" stroke="#222" stroke-width="1"/>
<line x1="319.9" y1="238.6" x2="319.9" y2="246.3" stroke="#222" stroke-width="0.9"/>
<line x1="316.4" y1="238.6" x2="323.4" y2="238.6" stroke="#222" stroke-width="0.9"/>
<line x1="316.4" y1="246.3" x2="323.4" y2="246.3" stroke="#222" stroke-width="0.9"/>
<circle cx="314.6" cy="235.6" r="2" fill="#fff" stroke="#222" stroke-width="0.8"/>
<circle cx="319.9" cy="234" r="2" fill="#fff" stroke="#222" stroke-width="0.8"/>
<circle cx="324.8" cy="229.9" r="2" fill="#fff" stroke="#222" stroke-width="0.8"/>
<circle cx="318.9" cy="242.5" r="2" fill="#fff" stroke="#222" stroke-width="0.8"/>
<circle cx="325.5" cy="242.5" r="2" fill="#fff" stroke="#222" stroke-width="0.8"/>
<circle cx="317.4" cy="254.8" r="2" fill="#fff" stroke="#222" stroke-width="0.8"/>
<circle cx="323" cy="257.5" r="2" fill="#fff" stroke="#222" stroke-width="0.8"/>
<rect x="339.4" y="252.352" width="19.4" height="46.148" fill="#ef857a" stroke="#222" stroke-width="1"/>
<line x1="348.3" y1="247.6" x2="348.3" y2="256.4" stroke="#222" stroke-width="0.9"/>
<line x1="344.8" y1="247.6" x2="351.8" y2="247.6" stroke="#222" stroke-width="0.9"/>
<line x1="344.8" y1="256.4" x2="351.8" y2="256.4" stroke="#222" stroke-width="0.9"/>
<circle cx="347.3" cy="234.3" r="2" fill="#fff" stroke="#222" stroke-width="0.8"/>
<circle cx="347.1" cy="246.2" r="2" fill="#fff" stroke="#222" stroke-width="0.8"/>
<circle cx="342" cy="253.7" r="2" fill="#fff" stroke="#222" stroke-width="0.8"/>
<circle cx="347.1" cy="252.3" r="2" fill="#fff" stroke="#222" stroke-width="0.8"/>
<circle cx="351.2" cy="253.7" r="2" fill="#fff" stroke="#222" stroke-width="0.8"/>
<circle cx="355.4" cy="258.6" r="2" fill="#fff" stroke="#222" stroke-width="0.8"/>
<circle cx="348.8" cy="271.9" r="2" fill="#fff" stroke="#222" stroke-width="0.8"/>
<rect x="366.4" y="267.624" width="19.3" height="30.876" fill="#79cb83" stroke="#222" stroke-width="1"/>
<line x1="376.3" y1="263.5" x2="376.3" y2="271.4" stroke="#222" stroke-width="0.9"/>
<line x1="372.8" y1="263.5" x2="379.8" y2="263.5" stroke="#222" stroke-width="0.9"/>
<line x1="372.8" y1="271.4" x2="379.8" y2="271.4" stroke="#222" stroke-width="0.9"/>
<circle cx="379.5" cy="255.8" r="2" fill="#fff" stroke="#222" stroke-width="0.8"/>
<circle cx="368.5" cy="262.5" r="2" fill="#fff" stroke="#222" stroke-width="0.8"/>
<circle cx="372.8" cy="260.9" r="2" fill="#fff" stroke="#222" stroke-width="0.8"/>
<circle cx="376.9" cy="266.3" r="2" fill="#fff" stroke="#222" stroke-width="0.8"/>
<circle cx="382" cy="268" r="2" fill="#fff" stroke="#222" stroke-width="0.8"/>
<circle cx="371.3" cy="276.1" r="2" fill="#fff" stroke="#222" stroke-width="0.8"/>
<circle cx="378.2" cy="281.6" r="2" fill="#fff" stroke="#222" stroke-width="0.8"/>
<line x1="271" y1="298.5" x2="397.8" y2="298.5" stroke="#3a3a3a" stroke-width="1"/>
<line x1="289.5" y1="183.5" x2="370.8" y2="183.5" stroke="#1a1a1a" stroke-width="0.9"/>
<polygon points="326.70,176.65 327.18,177.94 328.55,178.00 327.48,178.85 327.85,180.18 326.70,179.42 325.55,180.18 325.92,178.85 324.85,178.00 326.22,177.94" fill="#1a1a1a"/>
<polygon points="331.00,176.65 331.48,177.94 332.85,178.00 331.78,178.85 332.15,180.18 331.00,179.42 329.85,180.18 330.22,178.85 329.15,178.00 330.52,177.94" fill="#1a1a1a"/>
<polygon points="335.30,176.65 335.78,177.94 337.15,178.00 336.08,178.85 336.45,180.18 335.30,179.42 334.15,180.18 334.52,178.85 333.45,178.00 334.82,177.94" fill="#1a1a1a"/>
<line x1="289.5" y1="196.5" x2="341" y2="196.5" stroke="#1a1a1a" stroke-width="0.9"/>
<polygon points="312.00,190.05 312.48,191.34 313.85,191.40 312.78,192.25 313.15,193.58 312.00,192.82 310.85,193.58 311.22,192.25 310.15,191.40 311.52,191.34" fill="#1a1a1a"/>
<polygon points="316.30,190.05 316.78,191.34 318.15,191.40 317.08,192.25 317.45,193.58 316.30,192.82 315.15,193.58 315.52,192.25 314.45,191.40 315.82,191.34" fill="#1a1a1a"/>
<polygon points="320.60,190.05 321.08,191.34 322.45,191.40 321.38,192.25 321.75,193.58 320.60,192.82 319.45,193.58 319.82,192.25 318.75,191.40 320.12,191.34" fill="#1a1a1a"/>
<line x1="289.5" y1="209.5" x2="320.1" y2="209.5" stroke="#1a1a1a" stroke-width="0.9"/>
<polygon points="305.40,203.45 305.88,204.74 307.25,204.80 306.18,205.65 306.55,206.98 305.40,206.22 304.25,206.98 304.62,205.65 303.55,204.80 304.92,204.74" fill="#1a1a1a"/>
<circle cx="369.1" cy="191.8" r="2.1" fill="#f2f2f2" stroke="#222" stroke-width="0.9"/>
<text x="376.1" y="195.4" stroke="#231f20" stroke-width="0.25">Control</text>
<circle cx="369.1" cy="207.3" r="2.1" fill="#fdd27e" stroke="#222" stroke-width="0.9"/>
<text x="375.9" y="209.9" stroke="#231f20" stroke-width="0.25">Morphine (3 mg/kg)</text>
<circle cx="369.1" cy="224.1" r="2.1" fill="#ef857a" stroke="#222" stroke-width="0.9"/>
<text x="376.1" y="227.3" stroke="#231f20" stroke-width="0.25">Morphine (6 mg/kg)</text>
<circle cx="369.1" cy="240.9" r="2.1" fill="#79cb83" stroke="#222" stroke-width="0.9"/>
<text x="377" y="244.2" stroke="#231f20" stroke-width="0.25">Morphine (10 mg/kg)</text>
<text x="481.5" y="165.4" font-size="14" font-weight="bold" fill="#000" stroke="#000" stroke-width="0.25">f</text>
<path d="M533.9 190.6 L533.9 194.6 Q533.9 196.4 535.7 196.4 L569.7 196.4 Q571.7 196.4 571.7 198.4 L571.7 219.6 Q571.7 221.6 569.7 221.6 L522.3 221.6 Q520.3 221.6 520.3 219.6 L520.3 213.5" fill="none" stroke="#3a3a3a" stroke-width="0.8"/>
<path d="M527.4 199.2 L527.4 197.6 Q527.4 195.8 525.6 195.8 L505.3 195.8 Q503.3 195.8 503.3 197.8 L503.3 221.8 Q503.3 223.8 505.3 223.8 L525.9 223.8 Q527.9 223.8 527.9 225.8 L527.9 229" fill="none" stroke="#3a3a3a" stroke-width="0.8"/>
<rect x="512.3" y="169.7" width="53" height="20.5" fill="#c8c8c8" stroke="#8e8e8e" stroke-width="1" rx="3"/>
<polyline points="514.3,181.7 516.5,181.9 516.9,177.3 517.35,182.5 517.9,181.9 518.7,180.4 519.6,181.9 521.5,181.9 521.9,177.3 522.35,182.5 522.9,181.9 523.7,180.4 524.6,181.9 527,181.9 527.4,177.7 527.85,182.5 528.4,181.9 529.2,180.4 530.1,181.9 531.5,181.9 531.9,178.1 532.35,182.5 532.9,181.9 533.7,180.4 534.6,181.9 536.9,181.9 537.3,178.3 537.75,182.5 538.3,181.9 539.1,180.4 540,181.9 541,181.9 541.4,178.7 541.85,182.5 542.4,181.9 543.2,180.4 544.1,181.9 544.6,181.9 545,178.7 545.45,182.5 546,181.9 546.8,180.4 547.7,181.9 547.7,181.9 548.1,178.7 548.55,182.5 549.1,181.9 549.9,180.4 550.8,181.9 551.1,181.9 551.5,178.7 551.95,182.5 552.5,181.9 553.3,180.4 554.2,181.9 554.7,181.9 555.1,178.9 555.55,182.5 556.1,181.9 556.9,180.4 557.8,181.9 558.8,181.9 559.2,178.9 559.65,182.5 560.2,181.9 561,180.4 561.9,181.9 563.7,181.7" fill="none" stroke="#2a652d" stroke-width="0.85" stroke-linejoin="round"/>
<rect x="510.9" y="216.5" width="5" height="3.4" fill="#d6d6d6" stroke="#9a9a9a" stroke-width="0.5" rx="1"/>
<rect x="561.9" y="216.5" width="5" height="3.4" fill="#d6d6d6" stroke="#9a9a9a" stroke-width="0.5" rx="1"/>
<rect x="506.6" y="199.1" width="63.5" height="18.1" fill="#dedede" stroke="#9c9c9c" stroke-width="0.7" rx="1.8"/>
<rect x="507.1" y="200.8" width="3.3" height="15.3" fill="#2b4fc0" stroke="none" stroke-width="0" rx="1.4"/>
<line x1="508.75" y1="202.5" x2="508.75" y2="214.5" stroke="#6a86d8" stroke-width="0.5" stroke-dasharray="0.6 1.2"/>
<line x1="523.5" y1="200" x2="523.5" y2="216.5" stroke="#a0a0a0" stroke-width="1"/>
<line x1="539.4" y1="200" x2="539.4" y2="216.5" stroke="#a0a0a0" stroke-width="1"/>
<line x1="556.4" y1="200" x2="556.4" y2="216.5" stroke="#a0a0a0" stroke-width="1"/>
<rect x="518" y="205.1" width="3.4" height="3.4" fill="#8a8a8a" stroke="none" stroke-width="0" rx="0.8"/>
<circle cx="519.7" cy="206.8" r="1.05" fill="#111" stroke="#111" stroke-width="0.2"/>
<rect x="518" y="211.1" width="3.4" height="3.4" fill="#8a8a8a" stroke="none" stroke-width="0" rx="0.8"/>
<circle cx="519.7" cy="212.8" r="1.05" fill="#111" stroke="#111" stroke-width="0.2"/>
<rect x="512.5" y="211.1" width="3.4" height="3.4" fill="#8a8a8a" stroke="none" stroke-width="0" rx="0.8"/>
<circle cx="514.2" cy="212.8" r="1.05" fill="#111" stroke="#111" stroke-width="0.2"/>
<line x1="516" y1="203.3" x2="521" y2="203.3" stroke="#b0b0b0" stroke-width="0.4"/>
<line x1="527" y1="203.3" x2="532" y2="203.3" stroke="#b0b0b0" stroke-width="0.4"/>
<rect x="525.7" y="204" width="5.5" height="12.1" fill="#cfcfcf" stroke="none" stroke-width="0" rx="1.2"/>
<rect x="532.3" y="204" width="5.5" height="12.1" fill="#cfcfcf" stroke="none" stroke-width="0" rx="1.2"/>
<circle cx="528.4" cy="206.8" r="0.75" fill="#444" stroke="#444" stroke-width="0.2"/>
<circle cx="535" cy="206.8" r="0.75" fill="#444" stroke="#444" stroke-width="0.2"/>
<circle cx="528.4" cy="212.8" r="0.75" fill="#444" stroke="#444" stroke-width="0.2"/>
<circle cx="535" cy="212.8" r="0.75" fill="#444" stroke="#444" stroke-width="0.2"/>
<rect x="543.2" y="202.4" width="3.3" height="6.6" fill="#222" stroke="none" stroke-width="0" rx="1.5"/>
<rect x="544.3" y="203.6" width="1.1" height="4.2" fill="#777" stroke="none" stroke-width="0" rx="0.5"/>
<circle cx="544.9" cy="212.6" r="1.45" fill="#a8281a" stroke="#666" stroke-width="0.4"/>
<circle cx="552.3" cy="212.6" r="1.45" fill="#a8281a" stroke="#666" stroke-width="0.4"/>
<circle cx="562.4" cy="209.7" r="4.4" fill="#151515" stroke="#151515" stroke-width="0.3"/>
<circle cx="562.4" cy="209.7" r="2.1" fill="#5a5a5a" stroke="#bdbdbd" stroke-width="0.6"/>
<circle cx="562.4" cy="209.7" r="0.7" fill="#222" stroke="#222" stroke-width="0.2"/>
<circle cx="528.3" cy="230.6" r="2.8" fill="#000" stroke="#000" stroke-width="0.3"/>
<line x1="565.5" y1="182.2" x2="596" y2="182.2" stroke="#222" stroke-width="0.9"/>
<line x1="566.7" y1="209.5" x2="596" y2="209.5" stroke="#222" stroke-width="0.9"/>
<line x1="531" y1="230.3" x2="596" y2="230.3" stroke="#444" stroke-width="0.9"/>
<defs><radialGradient id="shd" cx="0.5" cy="0.5" r="0.5"><stop offset="0" stop-color="#cfdce8"/><stop offset="0.7" stop-color="#dde7f0"/><stop offset="1" stop-color="#ffffff" stop-opacity="0"/></radialGradient></defs>
<ellipse cx="540" cy="283" rx="47" ry="6" fill="url(#shd)"/>
<path d="M567 268.8 C576 270 585 271.5 592.5 273.8 C590 276.5 580 277.5 567 278.2 Z" fill="#eaa8a4" stroke="#c98a88" stroke-width="0.4"/>
<line x1="570" y1="272" x2="590" y2="274" stroke="#d89592" stroke-width="0.4"/>
<line x1="570" y1="275" x2="589" y2="275.3" stroke="#d89592" stroke-width="0.4"/>
<path d="M484.4 259.5 C485.42 258.33 488.32 254.53 490.50 252.50 C492.68 250.47 495.17 248.62 497.50 247.30 C499.83 245.98 502.50 245.23 504.50 244.60 C506.50 243.97 507.75 243.85 509.50 243.50 C511.25 243.15 513.05 242.70 515.00 242.50 C516.95 242.30 519.37 242.15 521.20 242.30 C523.03 242.45 524.10 243.32 526.00 243.40 C527.90 243.48 530.05 243.17 532.60 242.80 C535.15 242.43 538.40 241.60 541.30 241.20 C544.20 240.80 547.08 240.30 550.00 240.40 C552.92 240.50 556.02 240.70 558.80 241.80 C561.58 242.90 564.65 244.92 566.70 247.00 C568.75 249.08 569.98 251.63 571.10 254.30 C572.22 256.97 573.17 260.38 573.40 263.00 C573.63 265.62 573.15 267.83 572.50 270.00 C571.85 272.17 570.33 274.08 569.50 276.00 C568.67 277.92 568.75 280.50 567.50 281.50 C566.25 282.50 563.17 282.42 562.00 282.00 C560.83 281.58 561.90 279.57 560.50 279.00 C559.10 278.43 556.80 279.13 553.60 278.60 C550.40 278.07 545.10 276.48 541.30 275.80 C537.50 275.12 533.18 274.30 530.80 274.50 C528.42 274.70 528.05 275.92 527.00 277.00 C525.95 278.08 526.00 280.33 524.50 281.00 C523.00 281.67 518.87 282.50 518.00 281.00 C517.13 279.50 520.08 274.17 519.30 272.00 C518.52 269.83 516.02 269.00 513.30 268.00 C510.58 267.00 506.22 266.63 503.00 266.00 C499.78 265.37 496.67 264.90 494.00 264.20 C491.33 263.50 488.60 262.58 487.00 261.80 C485.40 261.02 484.83 259.88 484.40 259.50 Z" fill="#79797b" stroke="#5e5e60" stroke-width="0.5"/>
<path d="M532 243.5 C545 240 560 240.5 567 247 C572 254 574 262 572.5 270 C569 262 565 252 556 247 C548 244 540 244 532 243.5 Z" fill="#6f6f71" stroke="none" stroke-width="1"/>
<path d="M556 268 C563 267 568 271 568 277 L567.5 282 L561.5 282.3 C561 277 558 275 553 275 Z" fill="#6a6a6c" stroke="none" stroke-width="1"/>
<path d="M513 268 C516 271 516 276 514 280 L509 280.5 C510 276 510 272 508.5 266.5 Z" fill="#69696b" stroke="none" stroke-width="1"/>
<path d="M508.5 243.8 C507.5 238 509.5 235.5 512.5 235.3 C515.5 235.2 517 237 517 240 Z" fill="#6a6a6c" stroke="none" stroke-width="1"/>
<ellipse cx="517" cy="242.3" rx="4.1" ry="5.4" fill="#e9b7b3" transform="rotate(-12 517 242.3)"/>
<ellipse cx="517.6" cy="243" rx="2.2" ry="3.4" fill="#d79d99" transform="rotate(-12 517.6 243)"/>
<ellipse cx="499.8" cy="250.9" rx="1.9" ry="1.2" fill="#1a1a1a"/>
<ellipse cx="485.2" cy="259.6" rx="1.5" ry="1.4" fill="#f0a9a9"/>
<line x1="485" y1="253" x2="477.5" y2="248.55" stroke="#c8c8c8" stroke-width="0.4"/>
<line x1="485" y1="254.5" x2="477.5" y2="251.1" stroke="#c8c8c8" stroke-width="0.4"/>
<line x1="485" y1="256" x2="477.5" y2="253.65" stroke="#c8c8c8" stroke-width="0.4"/>
<line x1="491" y1="263" x2="495" y2="269" stroke="#d0d0d0" stroke-width="0.4"/>
<line x1="492.5" y1="263" x2="496.8" y2="269.3" stroke="#d0d0d0" stroke-width="0.4"/>
<line x1="494" y1="263" x2="498.6" y2="269.6" stroke="#d0d0d0" stroke-width="0.4"/>
<path d="M527 262.5 C529 258 533 256 536 253 C538 248.5 543 246.5 548 247.5 C553 248.5 556.5 252 557 257 C557.5 262 555 266 552 269.5 C548 273.5 541 274.5 535 272.5 C531 271 528 268 527 262.5 Z" fill="#eeb0a8" stroke="#cf8a82" stroke-width="0.5"/>
<path d="M552 262 C557 259.5 564 259.5 568 263 C571.5 267 570 272.5 566 275 C561 277.5 555 276.5 551.5 274 C549 271 549.5 265 552 262 Z" fill="#d7a09c" stroke="#b98480" stroke-width="0.5"/>
<path d="M544.95 265.319 q1.6 -1.59519 3.2 0" fill="none" stroke="#c9766d" stroke-width="0.5"/>
<path d="M541.175 269.754 q1.6 -1.44897 3.2 0" fill="none" stroke="#c9766d" stroke-width="0.5"/>
<path d="M541.258 254.425 q1.6 -1.34376 3.2 0" fill="none" stroke="#c9766d" stroke-width="0.5"/>
<path d="M535.202 255.149 q1.6 -1.71635 3.2 0" fill="none" stroke="#c9766d" stroke-width="0.5"/>
<path d="M548.377 252.511 q1.6 -1.59715 3.2 0" fill="none" stroke="#c9766d" stroke-width="0.5"/>
<path d="M533.33 262.584 q1.6 -0.926699 3.2 0" fill="none" stroke="#c9766d" stroke-width="0.5"/>
<path d="M535.027 253.741 q1.6 -1.78242 3.2 0" fill="none" stroke="#c9766d" stroke-width="0.5"/>
<path d="M550.938 255.365 q1.6 -1.76148 3.2 0" fill="none" stroke="#c9766d" stroke-width="0.5"/>
<path d="M542.941 263.912 q1.6 -1.00478 3.2 0" fill="none" stroke="#c9766d" stroke-width="0.5"/>
<path d="M552.583 264.194 q1.6 -1.76656 3.2 0" fill="none" stroke="#c9766d" stroke-width="0.5"/>
<path d="M551.45 255.573 q1.6 -1.16119 3.2 0" fill="none" stroke="#c9766d" stroke-width="0.5"/>
<path d="M533.983 252.205 q1.6 -0.86514 3.2 0" fill="none" stroke="#c9766d" stroke-width="0.5"/>
<path d="M537.233 262.268 q1.6 -0.803383 3.2 0" fill="none" stroke="#c9766d" stroke-width="0.5"/>
<path d="M546.27 256.434 q1.6 -1.10996 3.2 0" fill="none" stroke="#c9766d" stroke-width="0.5"/>
<path d="M549.644 259.576 q1.6 -1.11579 3.2 0" fill="none" stroke="#c9766d" stroke-width="0.5"/>
<path d="M541.549 264.503 q1.6 -0.857001 3.2 0" fill="none" stroke="#c9766d" stroke-width="0.5"/>
<path d="M547.995 267.587 q1.6 -0.818068 3.2 0" fill="none" stroke="#c9766d" stroke-width="0.5"/>
<path d="M548.906 257.056 q1.6 -1.37852 3.2 0" fill="none" stroke="#c9766d" stroke-width="0.5"/>
<path d="M534.717 265.626 q1.6 -1.72966 3.2 0" fill="none" stroke="#c9766d" stroke-width="0.5"/>
<path d="M552.609 256.576 q1.6 -1.15479 3.2 0" fill="none" stroke="#c9766d" stroke-width="0.5"/>
<path d="M542.593 266.063 q1.6 -0.908053 3.2 0" fill="none" stroke="#c9766d" stroke-width="0.5"/>
<path d="M547.962 266.539 q1.6 -1.65969 3.2 0" fill="none" stroke="#c9766d" stroke-width="0.5"/>
<path d="M532.188 256.496 q1.6 -1.41083 3.2 0" fill="none" stroke="#c9766d" stroke-width="0.5"/>
<path d="M552.034 256.479 q1.6 -1.7242 3.2 0" fill="none" stroke="#c9766d" stroke-width="0.5"/>
<path d="M543.083 255.874 q1.6 -1.1168 3.2 0" fill="none" stroke="#c9766d" stroke-width="0.5"/>
<path d="M533.573 264.162 q1.6 -1.79673 3.2 0" fill="none" stroke="#c9766d" stroke-width="0.5"/>
<path d="M553.681 260.738 q1.6 -1.20589 3.2 0" fill="none" stroke="#c9766d" stroke-width="0.5"/>
<path d="M535.696 262.067 q1.6 -1.6263 3.2 0" fill="none" stroke="#c9766d" stroke-width="0.5"/>
<path d="M540.936 258.279 q1.6 -0.855707 3.2 0" fill="none" stroke="#c9766d" stroke-width="0.5"/>
<path d="M564.909 262.36 q1.4 -1 2.8 0" fill="none" stroke="#b07a76" stroke-width="0.45"/>
<path d="M559.416 271.223 q1.4 -1 2.8 0" fill="none" stroke="#b07a76" stroke-width="0.45"/>
<path d="M554.697 270.048 q1.4 -1 2.8 0" fill="none" stroke="#b07a76" stroke-width="0.45"/>
<path d="M565.347 268.934 q1.4 -1 2.8 0" fill="none" stroke="#b07a76" stroke-width="0.45"/>
<path d="M563.244 263.173 q1.4 -1 2.8 0" fill="none" stroke="#b07a76" stroke-width="0.45"/>
<path d="M558.649 263.642 q1.4 -1 2.8 0" fill="none" stroke="#b07a76" stroke-width="0.45"/>
<path d="M563.982 265.243 q1.4 -1 2.8 0" fill="none" stroke="#b07a76" stroke-width="0.45"/>
<path d="M558.891 272.992 q1.4 -1 2.8 0" fill="none" stroke="#b07a76" stroke-width="0.45"/>
<path d="M505.5 280.5 C507 278.6 510 278.2 513 278.6 L519 280.3 C519.8 282.4 517 283.4 514 283 L507.5 282.8 C505.2 282.2 504.8 281.4 505.5 280.5 Z" fill="#f4c7bf" stroke="#dba59c" stroke-width="0.4"/>
<path d="M514 282.3 C517 280.8 521 280.5 524 281 L528 283.4 C527.5 285.6 524 285.9 521 285.5 L515.5 285 C513.5 284.3 513.2 283.2 514 282.3 Z" fill="#f4c7bf" stroke="#dba59c" stroke-width="0.4"/>
<path d="M551.5 283 C554 281 558 280.5 562 281 L566 284 C565 286 561.5 286 558.5 285.7 L553.5 285.3 C551 284.7 550.8 283.8 551.5 283 Z" fill="#f4c7bf" stroke="#dba59c" stroke-width="0.4"/>
<path d="M527.3 233 L524.7 244.6 L532.6 259.5 L536 265.5" fill="none" stroke="#1a1a1a" stroke-width="0.6" stroke-dasharray="1.4 0.9"/>
<path d="M529.3 233 L531.7 244.6 L537.8 252.5 L550 270 L557.5 271" fill="none" stroke="#1a1a1a" stroke-width="0.6" stroke-dasharray="1.4 0.9"/>
<rect x="534.3" y="264" width="7" height="5.2" fill="#111" stroke="none" stroke-width="0" rx="1.8"/>
<rect x="557" y="268.3" width="6.2" height="5.2" fill="#111" stroke="none" stroke-width="0" rx="1.8"/>
<rect x="536.2" y="265.2" width="1.3" height="2.8" fill="#9a9a9a" stroke="none" stroke-width="1"/>
<rect x="558.6" y="269.5" width="1.3" height="2.8" fill="#9a9a9a" stroke="none" stroke-width="1"/>
<line x1="544" y1="250.1" x2="596" y2="250.1" stroke="#222" stroke-width="0.9"/>
<line x1="561.5" y1="261.4" x2="596" y2="261.4" stroke="#222" stroke-width="0.9"/>
<line x1="563" y1="272.6" x2="596" y2="272.6" stroke="#222" stroke-width="0.9"/>
<text x="598.4" y="187.6" stroke="#231f20" stroke-width="0.25">LabChart software</text>
<text x="598.4" y="211.6" stroke="#231f20" stroke-width="0.25">Digitizer</text>
<text x="598.4" y="234.2" stroke="#231f20" stroke-width="0.25">Bridge pod</text>
<text x="598.4" y="253.3" stroke="#231f20" stroke-width="0.25">Small intestine</text>
<text x="598.4" y="264.4" stroke="#231f20" stroke-width="0.25">Colon</text>
<text x="598.4" y="276.6" stroke="#231f20" stroke-width="0.25">Strain gauge</text>
<text x="68" y="329.5" stroke="#231f20" stroke-width="0.25">Effect of morphine on small intestinal motility</text>
<line x1="9.2" y1="334.5" x2="329.6" y2="334.5" stroke="#333" stroke-width="0.9" stroke-dasharray="2.2 1.3"/>
<text x="0" y="349.8" font-size="14" font-weight="bold" fill="#000" stroke="#000" stroke-width="0.25">g</text>
<text x="5.1" y="362.7" stroke="#231f20" stroke-width="0.25">Control</text>
<polyline points="9.4,379 10.3,380.9 11.3,377.6 12.2,374.8 13.1,377.6 14.1,379.9 15.9,374.3 17.3,374.8 18.3,377.1 19.7,378.1 20.6,380.4 21.6,384.1 22.5,379.5 23.4,381.3 24.8,383.7 26.2,379.9 27.6,381.3 29,381.3 30.4,376.2 31.8,380.9 33.2,382.3 34.6,380.9 35.9,384.6 37,380.9 37.9,378.1 39.3,380.9 40.2,379 41.6,379.5 43,383.2 44.4,379.5 45.9,378.5 47.1,381.3 48.4,378.1 49.6,381.3 51,381.8 52.4,380.4 53.8,380.9 54.7,384.1 56.1,379.5 57.5,380.4 58.9,382.3 60.3,377.6 61.7,381.3 62.7,383.2 64.1,379.9 65.5,380.4 66.9,378.5 67.8,376.7 69.2,380.9 70.6,382.7 71.9,380.4 73.3,381.3 75.1,377.6 76.5,379.5 77.9,383.2 79.3,380.4 80.7,381.3 83.1,378.5 84.5,380.9 85.4,384.1 86.8,380.9 88.7,383.2 91,377.6 92.4,382.3 93.8,379.9 95.2,381.3 96.6,382.3 98.5,378.5 99.9,381.3 101.8,380.9 103.6,380.9 105.5,381.8 106.9,380.4 108.3,383.2 109.7,379.5 111.1,381.3 113,380.9 114.9,380.4 116.7,375.7 118.1,379.9 120,381.3 121.9,382.3 123.7,381.3 125.1,383.2 126.5,384.6 127.9,380.9 129.8,382.3 131.7,379.5 133.1,380.4" fill="none" stroke="#5e5e5e" stroke-width="0.8" stroke-linejoin="round"/>
<polyline points="9.9,405.4 11.3,406.3 12.7,404.9 14.5,408.2 15.9,404.9 17.3,405.4 18.7,403.5 20.1,399.3 21.6,404.5 22.5,407.3 23.9,402.6 25.3,403.5 26.7,404.9 28.1,402.1 30,406.3 31.4,404.5 32.8,402.1 34.2,400.7 35.3,399.3 36,405.4 37.4,410.1 38.8,402.6 40.2,401.7 41.2,404.5 42.6,403.5 44,402.6 45.4,406.3 46.8,401.2 48.2,400.7 49.6,403.5 51,405.4 52.4,404.5 53.3,408.7 54.7,404.9 56.1,405.4 57.5,404.5 58.9,404.9 60.3,406.3 61.7,403.1 63.1,401.7 64.5,402.6 66.4,399.3 67.8,404.9 69.2,404.5 70.5,404.5 71.9,404.5 73.7,399.8 75.1,402.6 76.5,407.3 77.9,402.6 79.3,404.5 80.7,403.5 82.1,403.1 84,407.7 85.9,402.1 87.8,401.7 89.6,402.1 91,404.5 92.4,402.6 93.8,404.9 95.7,405.9 97.6,401.7 99,404.5 100.4,402.1 101.8,404.5 103.2,407.7 105,404 106.4,408.2 107.9,404.9 109.7,403.5 111.1,401.2 112.5,399.3 113.9,404.9 115.3,407.3 116.7,404 118.6,403.1 120.5,398.4 121.9,404.5 123.3,402.6 125.1,404.5 126.5,402.6 127.9,401.7 129.3,403.1 130.7,405.4 132.1,403.1 133.6,405.9" fill="none" stroke="#5e5e5e" stroke-width="0.8" stroke-linejoin="round"/>
<line x1="102.8" y1="425.9" x2="123.4" y2="425.9" stroke="#222" stroke-width="0.9"/>
<line x1="123.4" y1="421" x2="123.4" y2="426.3" stroke="#222" stroke-width="0.9"/>
<text x="100.2" y="437" stroke="#231f20" stroke-width="0.25">10 s</text>
<text x="136.5" y="422.5" text-anchor="middle" stroke="#231f20" stroke-width="0.25" transform="rotate(-90 136.5 422.5)">20 μV</text>
<text x="4" y="432.5" stroke="#231f20" stroke-width="0.25">Morphine</text>
<line x1="9.3" y1="450.6" x2="134" y2="450.6" stroke="#888" stroke-width="0.8" stroke-dasharray="2.4 1.6"/>
<line x1="9.3" y1="477.2" x2="134" y2="477.2" stroke="#888" stroke-width="0.8" stroke-dasharray="2.4 1.6"/>
<path d="M9.9 439.9 C10.23 440.23 11.23 438.93 11.90 441.90 C12.57 444.87 13.25 456.05 13.90 457.70 C14.55 459.35 15.15 452.47 15.80 451.80 C16.45 451.13 17.13 452.72 17.80 453.70 C18.47 454.68 19.13 457.87 19.80 457.70 C20.47 457.53 20.98 454.02 21.80 452.70 C22.62 451.38 23.57 450.95 24.70 449.80 C25.83 448.65 27.62 445.97 28.60 445.80 C29.58 445.63 29.77 446.67 30.60 448.80 C31.43 450.93 32.78 457.95 33.60 458.60 C34.42 459.25 34.52 455.15 35.50 452.70 C36.48 450.25 38.35 444.38 39.50 443.90 C40.65 443.42 41.58 449.32 42.40 449.80 C43.22 450.28 43.57 446.32 44.40 446.80 C45.23 447.28 46.15 449.48 47.40 452.70 C48.65 455.92 50.58 465.27 51.90 466.10 C53.22 466.93 54.25 460.42 55.30 457.70 C56.35 454.98 57.00 452.43 58.20 449.80 C59.40 447.17 61.35 442.72 62.50 441.90 C63.65 441.08 64.00 444.90 65.10 444.90 C66.20 444.90 67.95 441.25 69.10 441.90 C70.25 442.55 71.18 446.83 72.00 448.80 C72.82 450.77 73.28 453.87 74.00 453.70 C74.72 453.53 75.32 447.63 76.30 447.80 C77.28 447.97 78.65 452.57 79.90 454.70 C81.15 456.83 82.48 460.77 83.80 460.60 C85.12 460.43 86.48 455.33 87.80 453.70 C89.12 452.07 90.38 452.27 91.70 450.80 C93.02 449.33 94.55 444.90 95.70 444.90 C96.85 444.90 97.30 448.12 98.60 450.80 C99.90 453.48 102.02 461.67 103.50 461.00 C104.98 460.33 106.35 449.98 107.50 446.80 C108.65 443.62 109.25 442.07 110.40 441.90 C111.55 441.73 113.25 444.82 114.40 445.80 C115.55 446.78 116.15 446.32 117.30 447.80 C118.45 449.28 120.15 453.88 121.30 454.70 C122.45 455.52 123.05 452.53 124.20 452.70 C125.35 452.87 126.72 457.50 128.20 455.70 C129.68 453.90 132.28 444.20 133.10 441.90" fill="none" stroke="#111" stroke-width="1.1"/>
<path d="M9.9 466.1 C10.40 467.00 11.42 468.47 12.90 471.50 C14.38 474.53 17.32 483.82 18.80 484.30 C20.28 484.78 20.98 476.38 21.80 474.40 C22.62 472.42 22.57 473.78 23.70 472.40 C24.83 471.02 27.28 465.27 28.60 466.10 C29.92 466.93 30.60 474.87 31.60 477.40 C32.60 479.93 33.62 479.77 34.60 481.30 C35.58 482.83 36.52 486.93 37.50 486.60 C38.48 486.27 39.52 480.67 40.50 479.30 C41.48 477.93 42.25 478.48 43.40 478.40 C44.55 478.32 45.92 479.13 47.40 478.80 C48.88 478.47 50.83 476.80 52.30 476.40 C53.77 476.00 54.88 477.07 56.20 476.40 C57.52 475.73 58.88 473.65 60.20 472.40 C61.52 471.15 62.95 468.73 64.10 468.90 C65.25 469.07 66.12 471.00 67.10 473.40 C68.08 475.80 68.85 483.13 70.00 483.30 C71.15 483.47 72.62 476.37 74.00 474.40 C75.38 472.43 76.98 470.68 78.30 471.50 C79.62 472.32 80.82 478.98 81.90 479.30 C82.98 479.62 83.65 474.22 84.80 473.40 C85.95 472.58 87.48 473.90 88.80 474.40 C90.12 474.90 91.40 475.58 92.70 476.40 C94.00 477.22 95.12 478.82 96.60 479.30 C98.08 479.78 100.28 480.60 101.60 479.30 C102.92 478.00 103.35 473.13 104.50 471.50 C105.65 469.87 107.18 468.85 108.50 469.50 C109.82 470.15 110.93 473.77 112.40 475.40 C113.87 477.03 115.82 479.95 117.30 479.30 C118.78 478.65 119.98 471.98 121.30 471.50 C122.62 471.02 124.05 475.75 125.20 476.40 C126.35 477.05 127.22 474.25 128.20 475.40 C129.18 476.55 130.28 482.32 131.10 483.30 C131.92 484.28 132.77 481.63 133.10 481.30" fill="none" stroke="#111" stroke-width="1.1"/>
<text x="150.5" y="352.3" font-size="14" font-weight="bold" fill="#000" stroke="#000" stroke-width="0.25">h</text>
<circle cx="192.7" cy="359.1" r="1.9" fill="#d3d4d8" stroke="#333" stroke-width="0.8"/>
<text x="199.7" y="362.2" stroke="#231f20" stroke-width="0.25">Control</text>
<circle cx="245.2" cy="358.9" r="1.9" fill="#79cb83" stroke="#333" stroke-width="0.8"/>
<text x="248.3" y="362.2" stroke="#231f20" stroke-width="0.25">Morphine</text>
<line x1="174.4" y1="371.5" x2="174.4" y2="485.6" stroke="#3a3a3a" stroke-width="1"/>
<line x1="172.4" y1="485.1" x2="174.4" y2="485.1" stroke="#3a3a3a" stroke-width="1"/>
<text x="172" y="488.5" text-anchor="end" stroke="#231f20" stroke-width="0.25">0.0</text>
<line x1="172.4" y1="447.4" x2="174.4" y2="447.4" stroke="#3a3a3a" stroke-width="1"/>
<text x="172" y="450.8" text-anchor="end" stroke="#231f20" stroke-width="0.25">0.1</text>
<line x1="172.4" y1="409.7" x2="174.4" y2="409.7" stroke="#3a3a3a" stroke-width="1"/>
<text x="172" y="413.1" text-anchor="end" stroke="#231f20" stroke-width="0.25">0.2</text>
<line x1="172.4" y1="372" x2="174.4" y2="372" stroke="#3a3a3a" stroke-width="1"/>
<text x="172" y="375.4" text-anchor="end" stroke="#231f20" stroke-width="0.25">0.3</text>
<text x="152.7" y="430.7" text-anchor="middle" stroke="#231f20" stroke-width="0.25" transform="rotate(-90 152.7 430.7)">Frequency (Hz)</text>
<rect x="182.5" y="407.25" width="18.8" height="77.8505" fill="#d3d4d8" stroke="#333" stroke-width="1"/>
<line x1="192.1" y1="404.6" x2="192.1" y2="411.3" stroke="#222" stroke-width="0.9"/>
<line x1="188.9" y1="404.6" x2="195.3" y2="404.6" stroke="#222" stroke-width="0.9"/>
<line x1="188.9" y1="411.3" x2="195.3" y2="411.3" stroke="#222" stroke-width="0.9"/>
<circle cx="192.1" cy="397.3" r="2" fill="#fff" stroke="#333" stroke-width="0.8"/>
<circle cx="185" cy="401.7" r="2" fill="#fff" stroke="#333" stroke-width="0.8"/>
<circle cx="199.2" cy="401.7" r="2" fill="#fff" stroke="#333" stroke-width="0.8"/>
<circle cx="188.3" cy="404.2" r="2" fill="#fff" stroke="#333" stroke-width="0.8"/>
<circle cx="195.4" cy="407.5" r="2" fill="#fff" stroke="#333" stroke-width="0.8"/>
<circle cx="188.3" cy="412.3" r="2" fill="#fff" stroke="#333" stroke-width="0.8"/>
<circle cx="195.4" cy="414.2" r="2" fill="#fff" stroke="#333" stroke-width="0.8"/>
<circle cx="192.1" cy="427.3" r="2" fill="#fff" stroke="#333" stroke-width="0.8"/>
<rect x="209.3" y="451.585" width="18.1" height="33.5153" fill="#79cb83" stroke="#333" stroke-width="1"/>
<line x1="218.5" y1="449.5" x2="218.5" y2="453.5" stroke="#222" stroke-width="0.9"/>
<line x1="215.3" y1="449.5" x2="221.7" y2="449.5" stroke="#222" stroke-width="0.9"/>
<line x1="215.3" y1="453.5" x2="221.7" y2="453.5" stroke="#222" stroke-width="0.9"/>
<circle cx="214.6" cy="449.4" r="2" fill="#fff" stroke="#333" stroke-width="0.8"/>
<circle cx="221.5" cy="451.2" r="2" fill="#fff" stroke="#333" stroke-width="0.8"/>
<circle cx="225.8" cy="449.4" r="2" fill="#fff" stroke="#333" stroke-width="0.8"/>
<circle cx="211.9" cy="453.7" r="2" fill="#fff" stroke="#333" stroke-width="0.8"/>
<circle cx="211.9" cy="460.8" r="2" fill="#fff" stroke="#333" stroke-width="0.8"/>
<circle cx="216.2" cy="460.8" r="2" fill="#fff" stroke="#333" stroke-width="0.8"/>
<circle cx="220.4" cy="461.9" r="2" fill="#fff" stroke="#333" stroke-width="0.8"/>
<circle cx="225.8" cy="464.6" r="2" fill="#fff" stroke="#333" stroke-width="0.8"/>
<line x1="173.9" y1="485.1" x2="236.3" y2="485.1" stroke="#3a3a3a" stroke-width="1"/>
<line x1="193.6" y1="379.5" x2="221.2" y2="379.5" stroke="#111" stroke-width="0.9"/>
<polygon points="203.10,371.45 203.58,372.74 204.95,372.80 203.88,373.65 204.25,374.98 203.10,374.22 201.95,374.98 202.32,373.65 201.25,372.80 202.62,372.74" fill="#1a1a1a"/>
<polygon points="207.40,371.45 207.88,372.74 209.25,372.80 208.18,373.65 208.55,374.98 207.40,374.22 206.25,374.98 206.62,373.65 205.55,372.80 206.92,372.74" fill="#1a1a1a"/>
<polygon points="211.70,371.45 212.18,372.74 213.55,372.80 212.48,373.65 212.85,374.98 211.70,374.22 210.55,374.98 210.92,373.65 209.85,372.80 211.22,372.74" fill="#1a1a1a"/>
<line x1="266.5" y1="370.5" x2="266.5" y2="484.6" stroke="#3a3a3a" stroke-width="1"/>
<line x1="264.5" y1="484.1" x2="266.5" y2="484.1" stroke="#3a3a3a" stroke-width="1"/>
<text x="264.1" y="487.5" text-anchor="end" stroke="#231f20" stroke-width="0.25">0</text>
<line x1="264.5" y1="446.4" x2="266.5" y2="446.4" stroke="#3a3a3a" stroke-width="1"/>
<text x="264.1" y="449.8" text-anchor="end" stroke="#231f20" stroke-width="0.25">50</text>
<line x1="264.5" y1="408.7" x2="266.5" y2="408.7" stroke="#3a3a3a" stroke-width="1"/>
<text x="264.1" y="412.1" text-anchor="end" stroke="#231f20" stroke-width="0.25">100</text>
<line x1="264.5" y1="371" x2="266.5" y2="371" stroke="#3a3a3a" stroke-width="1"/>
<text x="264.1" y="374.4" text-anchor="end" stroke="#231f20" stroke-width="0.25">150</text>
<text x="245.2" y="426.7" text-anchor="middle" stroke="#231f20" stroke-width="0.25" transform="rotate(-90 245.2 426.7)">Amplitude (μV)</text>
<rect x="272.6" y="467.286" width="18.3" height="16.8142" fill="#d3d4d8" stroke="#333" stroke-width="1"/>
<line x1="281.7" y1="465.2" x2="281.7" y2="469.5" stroke="#222" stroke-width="0.9"/>
<line x1="278.5" y1="465.2" x2="284.9" y2="465.2" stroke="#222" stroke-width="0.9"/>
<line x1="278.5" y1="469.5" x2="284.9" y2="469.5" stroke="#222" stroke-width="0.9"/>
<circle cx="276" cy="465" r="2" fill="#fff" stroke="#333" stroke-width="0.8"/>
<circle cx="281" cy="466.5" r="2" fill="#fff" stroke="#333" stroke-width="0.8"/>
<circle cx="286" cy="464.2" r="2" fill="#fff" stroke="#333" stroke-width="0.8"/>
<circle cx="289.4" cy="466" r="2" fill="#fff" stroke="#333" stroke-width="0.8"/>
<circle cx="277.8" cy="470.2" r="2" fill="#fff" stroke="#333" stroke-width="0.8"/>
<circle cx="283.8" cy="471" r="2" fill="#fff" stroke="#333" stroke-width="0.8"/>
<circle cx="288.3" cy="470.2" r="2" fill="#fff" stroke="#333" stroke-width="0.8"/>
<rect x="297.6" y="421.669" width="19.1" height="62.4312" fill="#79cb83" stroke="#333" stroke-width="1"/>
<line x1="307.2" y1="417.5" x2="307.2" y2="426" stroke="#222" stroke-width="0.9"/>
<line x1="304" y1="417.5" x2="310.4" y2="417.5" stroke="#222" stroke-width="0.9"/>
<line x1="304" y1="426" x2="310.4" y2="426" stroke="#222" stroke-width="0.9"/>
<circle cx="303" cy="404.8" r="2" fill="#fff" stroke="#333" stroke-width="0.8"/>
<circle cx="309.7" cy="404.8" r="2" fill="#fff" stroke="#333" stroke-width="0.8"/>
<circle cx="300.6" cy="420.6" r="2" fill="#fff" stroke="#333" stroke-width="0.8"/>
<circle cx="305.5" cy="420.6" r="2" fill="#fff" stroke="#333" stroke-width="0.8"/>
<circle cx="312.2" cy="419.7" r="2" fill="#fff" stroke="#333" stroke-width="0.8"/>
<circle cx="303" cy="426.7" r="2" fill="#fff" stroke="#333" stroke-width="0.8"/>
<circle cx="310.6" cy="428.9" r="2" fill="#fff" stroke="#333" stroke-width="0.8"/>
<circle cx="307.6" cy="440.4" r="2" fill="#fff" stroke="#333" stroke-width="0.8"/>
<line x1="266" y1="484.1" x2="318.3" y2="484.1" stroke="#3a3a3a" stroke-width="1"/>
<line x1="279.6" y1="379.5" x2="306.1" y2="379.5" stroke="#111" stroke-width="0.9"/>
<polygon points="288.70,370.95 289.18,372.24 290.55,372.30 289.48,373.15 289.85,374.48 288.70,373.72 287.55,374.48 287.92,373.15 286.85,372.30 288.22,372.24" fill="#1a1a1a"/>
<polygon points="293.00,370.95 293.48,372.24 294.85,372.30 293.78,373.15 294.15,374.48 293.00,373.72 291.85,374.48 292.22,373.15 291.15,372.30 292.52,372.24" fill="#1a1a1a"/>
<polygon points="297.30,370.95 297.78,372.24 299.15,372.30 298.08,373.15 298.45,374.48 297.30,373.72 296.15,374.48 296.52,373.15 295.45,372.30 296.82,372.24" fill="#1a1a1a"/>
<text x="433.1" y="329.5" stroke="#231f20" stroke-width="0.25">Effect of morphine on colonic motility</text>
<line x1="338.2" y1="334.5" x2="680.2" y2="334.5" stroke="#333" stroke-width="0.9" stroke-dasharray="2.2 1.3"/>
<text x="336.6" y="352.2" font-size="14" font-weight="bold" fill="#000" stroke="#000" stroke-width="0.25">i</text>
<text x="341" y="361.5" stroke="#231f20" stroke-width="0.25">Control</text>
<line x1="345.5" y1="372.4" x2="469.5" y2="372.4" stroke="#999" stroke-width="0.7" stroke-dasharray="2.4 1.6"/>
<line x1="345.5" y1="384.8" x2="469.5" y2="384.8" stroke="#999" stroke-width="0.7" stroke-dasharray="2.4 1.6"/>
<path d="M345.8 372.8 C346.75 372.65 349.92 372.12 351.50 371.90 C353.08 371.68 354.18 372.05 355.30 371.50 C356.42 370.95 357.25 368.60 358.20 368.60 C359.15 368.60 360.05 371.40 361.00 371.50 C361.95 371.60 362.78 369.37 363.90 369.20 C365.02 369.03 366.60 369.97 367.70 370.50 C368.80 371.03 369.55 372.48 370.50 372.40 C371.45 372.32 372.28 369.77 373.40 370.00 C374.52 370.23 376.10 373.55 377.20 373.80 C378.30 374.05 378.90 371.95 380.00 371.50 C381.10 371.05 382.53 371.58 383.80 371.10 C385.07 370.62 386.50 368.53 387.60 368.60 C388.70 368.67 389.13 371.02 390.40 371.50 C391.67 371.98 393.62 371.35 395.20 371.50 C396.78 371.65 398.48 371.70 399.90 372.40 C401.32 373.10 402.43 375.92 403.70 375.70 C404.97 375.48 406.38 372.68 407.50 371.10 C408.62 369.52 409.45 366.45 410.40 366.20 C411.35 365.95 412.10 368.65 413.20 369.60 C414.30 370.55 415.73 371.02 417.00 371.90 C418.27 372.78 419.53 375.22 420.80 374.90 C422.07 374.58 423.33 371.05 424.60 370.00 C425.87 368.95 427.13 368.60 428.40 368.60 C429.67 368.60 430.93 369.83 432.20 370.00 C433.47 370.17 434.73 369.20 436.00 369.60 C437.27 370.00 438.53 371.83 439.80 372.40 C441.07 372.97 442.33 372.52 443.60 373.00 C444.87 373.48 446.13 374.77 447.40 375.30 C448.67 375.83 450.10 377.15 451.20 376.20 C452.30 375.25 453.05 370.87 454.00 369.60 C454.95 368.33 455.95 369.23 456.90 368.60 C457.85 367.97 458.82 365.80 459.70 365.80 C460.58 365.80 461.42 368.67 462.20 368.60 C462.98 368.53 463.55 365.55 464.40 365.40 C465.25 365.25 466.40 366.53 467.30 367.70 C468.20 368.87 469.38 371.62 469.80 372.40" fill="none" stroke="#6a6a6a" stroke-width="0.8"/>
<path d="M345.8 385.2 C346.60 385.45 349.17 386.52 350.60 386.70 C352.03 386.88 353.13 386.15 354.40 386.30 C355.67 386.45 356.93 387.60 358.20 387.60 C359.47 387.60 360.73 386.77 362.00 386.30 C363.27 385.83 364.38 385.53 365.80 384.80 C367.22 384.07 369.08 382.15 370.50 381.90 C371.92 381.65 373.03 383.20 374.30 383.30 C375.57 383.40 376.83 382.25 378.10 382.50 C379.37 382.75 380.80 383.95 381.90 384.80 C383.00 385.65 383.60 387.92 384.70 387.60 C385.80 387.28 387.28 384.10 388.50 382.90 C389.72 381.70 390.88 380.33 392.00 380.40 C393.12 380.47 394.03 382.63 395.20 383.30 C396.37 383.97 397.58 384.15 399.00 384.40 C400.42 384.65 402.12 384.80 403.70 384.80 C405.28 384.80 406.92 384.25 408.50 384.40 C410.08 384.55 411.78 385.32 413.20 385.70 C414.62 386.08 415.73 386.92 417.00 386.70 C418.27 386.48 419.53 384.57 420.80 384.40 C422.07 384.23 423.18 385.70 424.60 385.70 C426.02 385.70 427.72 384.23 429.30 384.40 C430.88 384.57 432.67 386.80 434.10 386.70 C435.53 386.60 436.63 383.97 437.90 383.80 C439.17 383.63 440.28 385.53 441.70 385.70 C443.12 385.87 444.98 385.12 446.40 384.80 C447.82 384.48 448.77 383.65 450.20 383.80 C451.63 383.95 453.27 385.60 455.00 385.70 C456.73 385.80 458.72 384.23 460.60 384.40 C462.48 384.57 464.77 386.48 466.30 386.70 C467.83 386.92 469.22 385.87 469.80 385.70" fill="none" stroke="#6a6a6a" stroke-width="0.8"/>
<line x1="436" y1="406.9" x2="456.3" y2="406.9" stroke="#222" stroke-width="0.9"/>
<line x1="456.3" y1="401.5" x2="456.3" y2="407.3" stroke="#222" stroke-width="0.9"/>
<text x="433.1" y="417.5" stroke="#231f20" stroke-width="0.25">10 s</text>
<text x="468.5" y="403.5" text-anchor="middle" stroke="#231f20" stroke-width="0.25" transform="rotate(-90 468.5 403.5)">20 μV</text>
<text x="341.6" y="408.8" stroke="#231f20" stroke-width="0.25">Morphine</text>
<line x1="344.3" y1="440.5" x2="469.5" y2="440.5" stroke="#888" stroke-width="0.8" stroke-dasharray="2.4 1.6"/>
<line x1="344.3" y1="470.1" x2="469.5" y2="470.1" stroke="#888" stroke-width="0.8" stroke-dasharray="2.4 1.6"/>
<path d="M344.3 441.1 C344.90 439.80 346.82 435.10 347.90 433.30 C348.98 431.50 349.82 430.97 350.80 430.30 C351.78 429.63 352.97 429.23 353.80 429.30 C354.63 429.37 354.82 429.32 355.80 430.70 C356.78 432.08 358.55 435.87 359.70 437.60 C360.85 439.33 361.55 440.77 362.70 441.10 C363.85 441.43 365.52 441.17 366.60 439.60 C367.68 438.03 368.32 434.27 369.20 431.70 C370.08 429.13 371.02 424.93 371.90 424.20 C372.78 423.47 373.42 425.40 374.50 427.30 C375.58 429.20 377.25 433.30 378.40 435.60 C379.55 437.90 380.42 440.43 381.40 441.10 C382.38 441.77 383.15 439.70 384.30 439.60 C385.45 439.50 387.08 440.12 388.30 440.50 C389.52 440.88 390.52 443.03 391.60 441.90 C392.68 440.77 393.78 438.52 394.80 433.70 C395.82 428.88 396.82 414.98 397.70 413.00 C398.58 411.02 399.27 418.42 400.10 421.80 C400.93 425.18 401.72 430.18 402.70 433.30 C403.68 436.42 404.78 438.87 406.00 440.50 C407.22 442.13 408.68 443.58 410.00 443.10 C411.32 442.62 412.75 440.17 413.90 437.60 C415.05 435.03 415.92 430.50 416.90 427.70 C417.88 424.90 418.88 421.28 419.80 420.80 C420.72 420.32 421.42 422.33 422.40 424.80 C423.38 427.27 424.48 432.98 425.70 435.60 C426.92 438.22 428.28 438.85 429.70 440.50 C431.12 442.15 433.05 446.63 434.20 445.50 C435.35 444.37 435.72 437.32 436.60 433.70 C437.48 430.08 438.58 426.10 439.50 423.80 C440.42 421.50 441.27 419.57 442.10 419.90 C442.93 420.23 443.62 423.35 444.50 425.80 C445.38 428.25 446.42 432.97 447.40 434.60 C448.38 436.23 449.42 435.50 450.40 435.60 C451.38 435.70 452.38 434.70 453.30 435.20 C454.22 435.70 455.02 436.23 455.90 438.60 C456.78 440.97 457.72 448.58 458.60 449.40 C459.48 450.22 460.27 445.30 461.20 443.50 C462.13 441.70 463.12 440.73 464.20 438.60 C465.28 436.47 467.12 432.02 467.70 430.70" fill="none" stroke="#111" stroke-width="1.1"/>
<path d="M344.3 478 C344.90 477.18 346.58 477.13 347.90 473.10 C349.22 469.07 351.05 454.78 352.20 453.80 C353.35 452.82 353.88 463.50 354.80 467.20 C355.72 470.90 356.55 474.10 357.70 476.00 C358.85 477.90 360.65 479.08 361.70 478.60 C362.75 478.12 363.18 475.60 364.00 473.10 C364.82 470.60 365.73 464.58 366.60 463.60 C367.47 462.62 368.38 466.93 369.20 467.20 C370.02 467.47 370.72 465.87 371.50 465.20 C372.28 464.53 373.07 460.83 373.90 463.20 C374.73 465.57 375.58 477.27 376.50 479.40 C377.42 481.53 378.42 477.38 379.40 476.00 C380.38 474.62 381.48 472.52 382.40 471.10 C383.32 469.68 384.08 467.67 384.90 467.50 C385.72 467.33 386.25 469.43 387.30 470.10 C388.35 470.77 389.88 471.00 391.20 471.50 C392.52 472.00 393.88 472.77 395.20 473.10 C396.52 473.43 397.95 473.18 399.10 473.50 C400.25 473.82 400.95 474.75 402.10 475.00 C403.25 475.25 404.85 475.98 406.00 475.00 C407.15 474.02 408.02 471.33 409.00 469.10 C409.98 466.87 410.92 462.42 411.90 461.60 C412.88 460.78 413.75 462.35 414.90 464.20 C416.05 466.05 417.48 471.05 418.80 472.70 C420.12 474.35 421.48 473.72 422.80 474.10 C424.12 474.48 425.38 475.50 426.70 475.00 C428.02 474.50 429.55 471.42 430.70 471.10 C431.85 470.78 432.62 473.75 433.60 473.10 C434.58 472.45 435.62 469.12 436.60 467.20 C437.58 465.28 438.52 461.60 439.50 461.60 C440.48 461.60 441.35 464.97 442.50 467.20 C443.65 469.43 445.08 473.03 446.40 475.00 C447.72 476.97 449.08 478.83 450.40 479.00 C451.72 479.17 453.00 476.00 454.30 476.00 C455.60 476.00 457.15 480.80 458.20 479.00 C459.25 477.20 459.87 469.87 460.60 465.20 C461.33 460.53 461.93 450.83 462.60 451.00 C463.27 451.17 463.85 463.02 464.60 466.20 C465.35 469.38 466.68 469.45 467.10 470.10" fill="none" stroke="#111" stroke-width="1.1"/>
<text x="475.5" y="351.2" font-size="14" font-weight="bold" fill="#000" stroke="#000" stroke-width="0.25">j</text>
<circle cx="541.6" cy="357.7" r="2" fill="#f4f4f4" stroke="#333" stroke-width="0.9"/>
<text x="546.2" y="361.1" stroke="#231f20" stroke-width="0.25">Control</text>
<circle cx="594.1" cy="357.7" r="2" fill="#79cb83" stroke="#333" stroke-width="0.9"/>
<text x="599.8" y="361.1" stroke="#231f20" stroke-width="0.25">Morphine</text>
<line x1="519.2" y1="374.9" x2="519.2" y2="484.7" stroke="#3a3a3a" stroke-width="1"/>
<line x1="517.2" y1="484.2" x2="519.2" y2="484.2" stroke="#3a3a3a" stroke-width="1"/>
<text x="515.5" y="487.6" text-anchor="end" stroke="#231f20" stroke-width="0.25">0.00</text>
<line x1="517.2" y1="457" x2="519.2" y2="457" stroke="#3a3a3a" stroke-width="1"/>
<text x="515.5" y="460.4" text-anchor="end" stroke="#231f20" stroke-width="0.25">0.05</text>
<line x1="517.2" y1="429.8" x2="519.2" y2="429.8" stroke="#3a3a3a" stroke-width="1"/>
<text x="515.5" y="433.2" text-anchor="end" stroke="#231f20" stroke-width="0.25">0.10</text>
<line x1="517.2" y1="402.6" x2="519.2" y2="402.6" stroke="#3a3a3a" stroke-width="1"/>
<text x="515.5" y="406" text-anchor="end" stroke="#231f20" stroke-width="0.25">0.15</text>
<line x1="517.2" y1="375.4" x2="519.2" y2="375.4" stroke="#3a3a3a" stroke-width="1"/>
<text x="515.5" y="378.8" text-anchor="end" stroke="#231f20" stroke-width="0.25">0.20</text>
<text x="490.7" y="427.5" text-anchor="middle" stroke="#231f20" stroke-width="0.25" transform="rotate(-90 490.7 427.5)">Frequency (Hz)</text>
<rect x="526.4" y="405.701" width="19" height="78.4992" fill="#d3d4d8" stroke="#333" stroke-width="1"/>
<line x1="536" y1="401.2" x2="536" y2="409.8" stroke="#222" stroke-width="0.9"/>
<line x1="532.8" y1="401.2" x2="539.2" y2="401.2" stroke="#222" stroke-width="0.9"/>
<line x1="532.8" y1="409.8" x2="539.2" y2="409.8" stroke="#222" stroke-width="0.9"/>
<circle cx="536.5" cy="394.1" r="2" fill="#fff" stroke="#333" stroke-width="0.8"/>
<circle cx="534" cy="402.5" r="2" fill="#fff" stroke="#333" stroke-width="0.8"/>
<circle cx="538.3" cy="403.5" r="2" fill="#fff" stroke="#333" stroke-width="0.8"/>
<circle cx="536" cy="409.3" r="2" fill="#fff" stroke="#333" stroke-width="0.8"/>
<circle cx="536.5" cy="417.4" r="2" fill="#fff" stroke="#333" stroke-width="0.8"/>
<rect x="557.6" y="421.314" width="19" height="62.8864" fill="#79cb83" stroke="#333" stroke-width="1"/>
<line x1="567" y1="418.7" x2="567" y2="423.8" stroke="#222" stroke-width="0.9"/>
<line x1="563.8" y1="418.7" x2="570.2" y2="418.7" stroke="#222" stroke-width="0.9"/>
<line x1="563.8" y1="423.8" x2="570.2" y2="423.8" stroke="#222" stroke-width="0.9"/>
<circle cx="560.1" cy="413.6" r="2" fill="#fff" stroke="#333" stroke-width="0.8"/>
<circle cx="567.4" cy="415.2" r="2" fill="#fff" stroke="#333" stroke-width="0.8"/>
<circle cx="574.5" cy="418.2" r="2" fill="#fff" stroke="#333" stroke-width="0.8"/>
<circle cx="564.4" cy="425.8" r="2" fill="#fff" stroke="#333" stroke-width="0.8"/>
<circle cx="570.7" cy="429.6" r="2" fill="#fff" stroke="#333" stroke-width="0.8"/>
<line x1="518.7" y1="484.2" x2="584.7" y2="484.2" stroke="#3a3a3a" stroke-width="1"/>
<line x1="536" y1="379.5" x2="567.7" y2="379.5" stroke="#111" stroke-width="0.9"/>
<polygon points="551.70,372.05 552.18,373.34 553.55,373.40 552.48,374.25 552.85,375.58 551.70,374.82 550.55,375.58 550.92,374.25 549.85,373.40 551.22,373.34" fill="#1a1a1a"/>
<line x1="615.9" y1="374.8" x2="615.9" y2="484.7" stroke="#3a3a3a" stroke-width="1"/>
<line x1="613.9" y1="484.2" x2="615.9" y2="484.2" stroke="#3a3a3a" stroke-width="1"/>
<text x="613.5" y="487.6" text-anchor="end" stroke="#231f20" stroke-width="0.25">0</text>
<line x1="613.9" y1="462.42" x2="615.9" y2="462.42" stroke="#3a3a3a" stroke-width="1"/>
<text x="613.5" y="465.82" text-anchor="end" stroke="#231f20" stroke-width="0.25">20</text>
<line x1="613.9" y1="440.64" x2="615.9" y2="440.64" stroke="#3a3a3a" stroke-width="1"/>
<text x="613.5" y="444.04" text-anchor="end" stroke="#231f20" stroke-width="0.25">40</text>
<line x1="613.9" y1="418.86" x2="615.9" y2="418.86" stroke="#3a3a3a" stroke-width="1"/>
<text x="613.5" y="422.26" text-anchor="end" stroke="#231f20" stroke-width="0.25">60</text>
<line x1="613.9" y1="397.08" x2="615.9" y2="397.08" stroke="#3a3a3a" stroke-width="1"/>
<text x="613.5" y="400.48" text-anchor="end" stroke="#231f20" stroke-width="0.25">80</text>
<line x1="613.9" y1="375.3" x2="615.9" y2="375.3" stroke="#3a3a3a" stroke-width="1"/>
<text x="613.5" y="378.7" text-anchor="end" stroke="#231f20" stroke-width="0.25">100</text>
<text x="597" y="426.5" text-anchor="middle" stroke="#231f20" stroke-width="0.25" transform="rotate(-90 597 426.5)">Amplitude (μV)</text>
<rect x="624.5" y="456.539" width="19" height="27.6606" fill="#d3d4d8" stroke="#333" stroke-width="1"/>
<line x1="634" y1="453.5" x2="634" y2="459.5" stroke="#222" stroke-width="0.9"/>
<line x1="630.8" y1="453.5" x2="637.2" y2="453.5" stroke="#222" stroke-width="0.9"/>
<line x1="630.8" y1="459.5" x2="637.2" y2="459.5" stroke="#222" stroke-width="0.9"/>
<circle cx="634.2" cy="443.7" r="2" fill="#fff" stroke="#333" stroke-width="0.8"/>
<circle cx="628.3" cy="456.5" r="2" fill="#fff" stroke="#333" stroke-width="0.8"/>
<circle cx="634" cy="456" r="2" fill="#fff" stroke="#333" stroke-width="0.8"/>
<circle cx="639.4" cy="457.6" r="2" fill="#fff" stroke="#333" stroke-width="0.8"/>
<circle cx="632.5" cy="461" r="2" fill="#fff" stroke="#333" stroke-width="0.8"/>
<rect x="655.6" y="409.93" width="19.4" height="74.2698" fill="#79cb83" stroke="#333" stroke-width="1"/>
<line x1="665.3" y1="400.5" x2="665.3" y2="420.2" stroke="#222" stroke-width="0.9"/>
<line x1="662.1" y1="400.5" x2="668.5" y2="400.5" stroke="#222" stroke-width="0.9"/>
<line x1="662.1" y1="420.2" x2="668.5" y2="420.2" stroke="#222" stroke-width="0.9"/>
<circle cx="666" cy="383.3" r="2" fill="#fff" stroke="#333" stroke-width="0.8"/>
<circle cx="666" cy="394.3" r="2" fill="#fff" stroke="#333" stroke-width="0.8"/>
<circle cx="666" cy="412.6" r="2" fill="#fff" stroke="#333" stroke-width="0.8"/>
<circle cx="667.7" cy="420.2" r="2" fill="#fff" stroke="#333" stroke-width="0.8"/>
<circle cx="666" cy="437.5" r="2" fill="#fff" stroke="#333" stroke-width="0.8"/>
<line x1="615.4" y1="484.2" x2="681" y2="484.2" stroke="#3a3a3a" stroke-width="1"/>
<line x1="626.2" y1="379.5" x2="665.3" y2="379.5" stroke="#111" stroke-width="0.9"/>
<polygon points="642.45,372.65 642.93,373.94 644.30,374.00 643.23,374.85 643.60,376.18 642.45,375.42 641.30,376.18 641.67,374.85 640.60,374.00 641.97,373.94" fill="#1a1a1a"/>
<polygon points="646.75,372.65 647.23,373.94 648.60,374.00 647.53,374.85 647.90,376.18 646.75,375.42 645.60,376.18 645.97,374.85 644.90,374.00 646.27,373.94" fill="#1a1a1a"/>
</svg>
</body></html>
